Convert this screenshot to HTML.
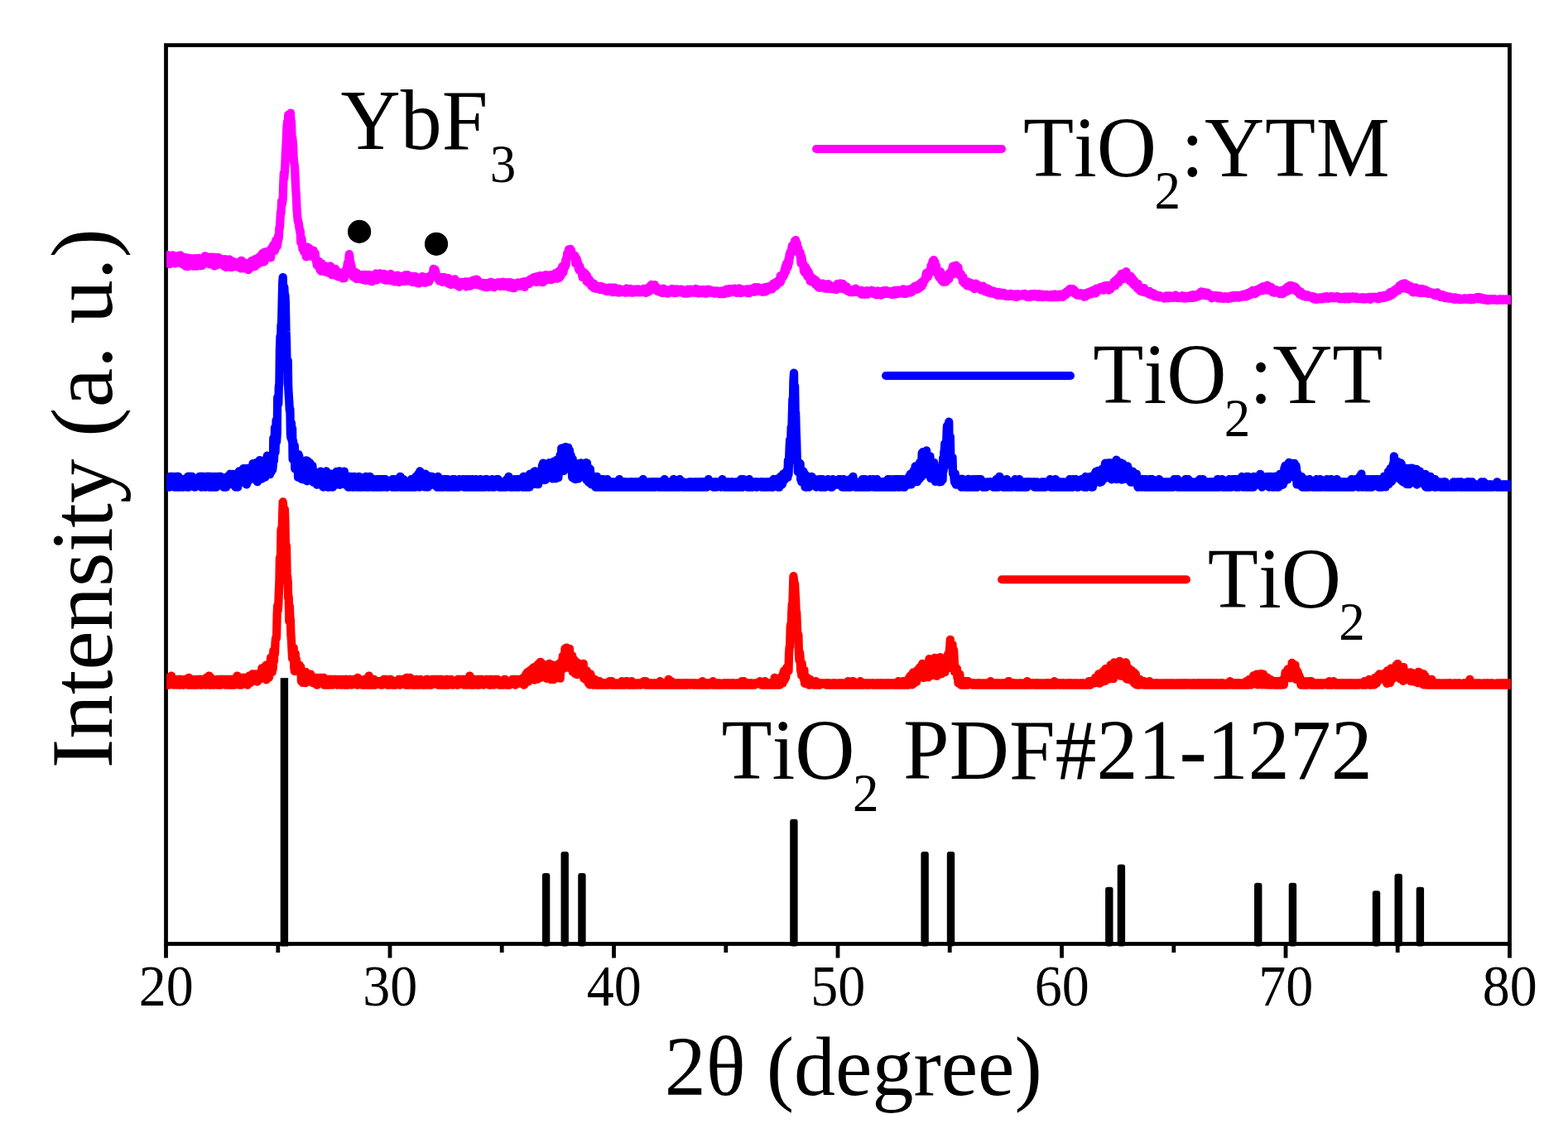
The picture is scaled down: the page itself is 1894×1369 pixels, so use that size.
<!DOCTYPE html>
<html lang="en">
<head>
<meta charset="utf-8">
<title>XRD patterns</title>
<style>
html,body{margin:0;padding:0;background:#fff;}
body{width:1894px;height:1369px;overflow:hidden;}
svg{display:block;}
text{font-family:"Liberation Serif","Times New Roman",serif;fill:#000;font-kerning:none;}
.tick{font-size:66px;text-anchor:middle;}
.lab{font-size:100px;}
.sub{font-size:63px;}
</style>
</head>
<body>
<svg width="1894" height="1369" viewBox="0 0 1894 1369">
<rect x="0" y="0" width="1894" height="1369" fill="#fff"/>
<g fill="#000">
<rect x="338.7" y="819.2" width="9.4" height="324.3" rx="0"/>
<rect x="654.9" y="1055.1" width="9.4" height="88.4" rx="3"/>
<rect x="677.5" y="1029.1" width="9.4" height="114.4" rx="3"/>
<rect x="698.2" y="1055.1" width="9.4" height="88.4" rx="3"/>
<rect x="954.2" y="989.7" width="9.4" height="153.8" rx="3"/>
<rect x="1112.4" y="1029.1" width="9.4" height="114.4" rx="3"/>
<rect x="1143.8" y="1029.1" width="9.4" height="114.4" rx="3"/>
<rect x="1335.1" y="1071.8" width="9.4" height="71.7" rx="3"/>
<rect x="1349.7" y="1044.5" width="9.4" height="99.0" rx="3"/>
<rect x="1515.0" y="1066.8" width="9.4" height="76.7" rx="3"/>
<rect x="1556.7" y="1066.8" width="9.4" height="76.7" rx="3"/>
<rect x="1657.8" y="1076.2" width="9.4" height="67.3" rx="3"/>
<rect x="1684.5" y="1055.7" width="9.4" height="87.8" rx="3"/>
<rect x="1710.7" y="1071.8" width="9.4" height="71.7" rx="3"/>
</g>
<rect x="200.5" y="54.6" width="1623.0" height="1085.9" fill="none" stroke="#000" stroke-width="4.8"/>
<defs><clipPath id="plot"><rect x="201" y="57" width="1624" height="1081"/></clipPath></defs>
<g clip-path="url(#plot)">
<path d="M200.5,821.0L201.0,823.2L201.6,821.0L202.1,827.6L202.7,823.2L203.2,818.8L203.7,825.4L204.3,827.6L204.8,821.0L205.4,823.2L205.9,825.4L206.5,823.2L207.0,816.6L207.5,825.4L208.1,821.0L208.6,823.2L209.2,825.4L209.7,827.6L210.2,821.0L210.8,825.4L211.3,825.4L211.9,823.2L212.4,825.4L212.9,827.6L213.5,825.4L214.0,823.2L214.6,821.0L215.1,823.2L215.6,823.2L216.2,827.6L216.7,821.0L217.3,827.6L217.8,821.0L218.4,823.2L218.9,823.2L219.4,825.4L220.0,825.4L220.5,827.6L221.1,823.2L221.6,825.4L222.1,827.6L222.7,825.4L223.2,821.0L223.8,821.0L224.3,823.2L224.8,825.4L225.4,821.0L225.9,825.4L226.5,823.2L227.0,827.6L227.5,823.2L228.1,818.8L228.6,821.0L229.2,827.6L229.7,821.0L230.3,825.4L230.8,821.0L231.3,827.6L231.9,827.6L232.4,827.6L233.0,825.4L233.5,821.0L234.0,823.2L234.6,823.2L235.1,827.6L235.7,827.6L236.2,825.4L236.7,823.2L237.3,821.0L237.8,823.2L238.4,825.4L238.9,827.6L239.5,825.4L240.0,825.4L240.5,821.0L241.1,821.0L241.6,821.0L242.2,827.6L242.7,821.0L243.2,827.6L243.8,827.6L244.3,823.2L244.9,825.4L245.4,821.0L245.9,823.2L246.5,823.2L247.0,823.2L247.6,821.0L248.1,821.0L248.6,827.6L249.2,818.8L249.7,825.4L250.3,825.4L250.8,821.0L251.4,821.0L251.9,821.0L252.4,816.6L253.0,827.6L253.5,825.4L254.1,821.0L254.6,818.8L255.1,825.4L255.7,821.0L256.2,827.6L256.8,821.0L257.3,825.4L257.8,827.6L258.4,827.6L258.9,823.2L259.5,823.2L260.0,823.2L260.6,825.4L261.1,823.2L261.6,825.4L262.2,821.0L262.7,827.6L263.3,823.2L263.8,823.2L264.3,827.6L264.9,821.0L265.4,823.2L266.0,821.0L266.5,827.6L267.0,825.4L267.6,821.0L268.1,821.0L268.7,823.2L269.2,825.4L269.7,821.0L270.3,823.2L270.8,823.2L271.4,823.2L271.9,821.0L272.5,827.6L273.0,823.2L273.5,821.0L274.1,825.4L274.6,825.4L275.2,823.2L275.7,827.6L276.2,821.0L276.8,823.2L277.3,823.2L277.9,821.0L278.4,827.6L278.9,827.6L279.5,825.4L280.0,821.0L280.6,825.4L281.1,825.4L281.6,827.6L282.2,825.4L282.7,821.0L283.3,827.6L283.8,823.2L284.4,825.4L284.9,818.8L285.4,821.0L286.0,825.4L286.5,816.6L287.1,825.4L287.6,821.0L288.1,825.4L288.7,825.4L289.2,827.6L289.8,825.4L290.3,823.2L290.8,827.6L291.4,827.6L291.9,827.6L292.5,818.8L293.0,823.2L293.6,818.8L294.1,823.2L294.6,823.1L295.2,823.3L295.7,818.9L296.3,823.3L296.8,818.8L297.3,823.2L297.9,825.5L298.4,823.2L299.0,827.6L299.5,823.2L300.0,823.2L300.6,818.8L301.1,816.5L301.7,825.4L302.2,818.9L302.7,816.6L303.3,818.7L303.8,823.3L304.4,821.1L304.9,814.4L305.5,819.0L306.0,816.8L306.5,822.9L307.1,814.6L307.6,818.6L308.2,814.5L308.7,821.2L309.2,822.9L309.8,823.1L310.3,816.5L310.9,823.5L311.4,819.2L311.9,814.5L312.5,820.8L313.0,820.8L313.6,820.9L314.1,816.6L314.7,812.0L315.2,819.2L315.7,814.7L316.3,807.3L316.8,814.7L317.4,818.8L317.9,808.1L318.4,807.3L319.0,809.6L319.5,816.7L320.1,812.8L320.6,816.4L321.1,804.0L321.7,821.4L322.2,803.9L322.8,816.1L323.3,818.0L323.8,802.8L324.4,802.9L324.9,818.5L325.5,812.1L326.0,813.7L326.6,799.6L327.1,794.4L327.6,808.1L328.2,805.1L328.7,812.1L329.3,808.7L329.8,807.9L330.3,786.0L330.9,798.9L331.4,787.5L332.0,789.8L332.5,777.4L333.0,771.3L333.6,772.2L334.1,768.4L334.7,740.7L335.2,731.8L335.7,737.7L336.3,730.2L336.8,715.7L337.4,703.6L337.9,673.9L338.5,682.3L339.0,672.4L339.5,640.5L340.1,638.0L340.6,643.5L341.2,621.5L341.7,606.5L342.2,611.2L342.8,620.8L343.3,621.0L343.9,615.7L344.4,630.1L344.9,658.1L345.5,658.3L346.0,659.9L346.6,694.2L347.1,696.1L347.7,703.2L348.2,722.8L348.7,721.3L349.3,750.7L349.8,732.1L350.4,745.9L350.9,749.3L351.4,767.0L352.0,774.5L352.5,784.6L353.1,795.7L353.6,786.4L354.1,796.3L354.7,782.7L355.2,805.6L355.8,811.0L356.3,792.9L356.8,790.1L357.4,805.6L357.9,796.6L358.5,801.6L359.0,801.4L359.6,807.1L360.1,809.8L360.6,808.0L361.2,805.6L361.7,803.4L362.3,805.5L362.8,809.5L363.3,806.0L363.9,823.1L364.4,823.4L365.0,819.3L365.5,824.9L366.0,816.1L366.6,821.3L367.1,811.9L367.7,823.4L368.2,814.2L368.8,825.2L369.3,812.2L369.8,820.9L370.4,822.9L370.9,821.2L371.5,816.6L372.0,814.5L372.5,816.8L373.1,823.1L373.6,821.2L374.2,820.9L374.7,823.3L375.2,814.6L375.8,818.7L376.3,818.8L376.9,823.4L377.4,821.0L377.9,825.3L378.5,823.3L379.0,818.8L379.6,825.3L380.1,820.9L380.7,823.1L381.2,818.8L381.7,825.5L382.3,818.8L382.8,827.6L383.4,825.4L383.9,821.0L384.4,821.1L385.0,825.5L385.5,825.5L386.1,823.2L386.6,825.4L387.1,818.8L387.7,821.0L388.2,823.2L388.8,821.0L389.3,825.4L389.8,823.2L390.4,821.0L390.9,818.8L391.5,827.6L392.0,823.2L392.6,821.0L393.1,825.4L393.6,825.4L394.2,827.6L394.7,821.0L395.3,827.6L395.8,823.2L396.3,827.6L396.9,823.2L397.4,821.0L398.0,827.6L398.5,821.0L399.0,825.4L399.6,821.0L400.1,825.4L400.7,823.2L401.2,821.0L401.8,827.6L402.3,825.4L402.8,821.0L403.4,825.4L403.9,823.2L404.5,821.0L405.0,823.2L405.5,821.0L406.1,823.2L406.6,823.2L407.2,827.6L407.7,821.0L408.2,825.4L408.8,823.2L409.3,823.2L409.9,825.4L410.4,821.0L410.9,823.2L411.5,823.2L412.0,827.6L412.6,823.2L413.1,823.2L413.7,821.0L414.2,823.2L414.7,825.4L415.3,823.2L415.8,827.6L416.4,825.4L416.9,823.2L417.4,821.0L418.0,821.0L418.5,827.6L419.1,821.0L419.6,823.2L420.1,827.6L420.7,825.4L421.2,823.2L421.8,825.4L422.3,825.4L422.9,821.0L423.4,825.4L423.9,821.0L424.5,825.4L425.0,827.6L425.6,823.2L426.1,823.2L426.6,825.4L427.2,821.0L427.7,823.2L428.3,821.0L428.8,823.2L429.3,823.2L429.9,825.4L430.4,823.2L431.0,821.0L431.5,827.6L432.0,818.8L432.6,825.4L433.1,825.4L433.7,823.2L434.2,823.2L434.8,825.4L435.3,823.2L435.8,825.4L436.4,825.4L436.9,823.2L437.5,827.6L438.0,827.6L438.5,823.2L439.1,827.6L439.6,823.2L440.2,821.0L440.7,821.0L441.2,827.6L441.8,825.4L442.3,823.2L442.9,825.4L443.4,825.4L443.9,821.0L444.5,827.6L445.0,821.0L445.6,816.6L446.1,827.6L446.7,825.4L447.2,823.2L447.7,821.0L448.3,827.6L448.8,821.0L449.4,827.6L449.9,825.4L450.4,827.6L451.0,821.0L451.5,821.0L452.1,825.4L452.6,823.2L453.1,827.6L453.7,823.2L454.2,825.4L454.8,823.2L455.3,825.4L455.9,823.2L456.4,823.2L456.9,823.2L457.5,823.2L458.0,825.4L458.6,823.2L459.1,823.2L459.6,823.2L460.2,827.6L460.7,823.2L461.3,827.6L461.8,823.2L462.3,823.2L462.9,823.2L463.4,821.0L464.0,825.4L464.5,821.0L465.0,821.0L465.6,823.2L466.1,825.4L466.7,821.0L467.2,823.2L467.8,827.6L468.3,825.4L468.8,827.6L469.4,823.2L469.9,825.4L470.5,827.6L471.0,821.0L471.5,825.4L472.1,821.0L472.6,823.2L473.2,825.4L473.7,825.4L474.2,827.6L474.8,825.4L475.3,823.2L475.9,827.6L476.4,823.2L477.0,825.4L477.5,827.6L478.0,827.6L478.6,825.4L479.1,823.2L479.7,825.4L480.2,823.2L480.7,823.2L481.3,825.4L481.8,821.0L482.4,821.0L482.9,827.6L483.4,825.4L484.0,823.2L484.5,825.4L485.1,825.4L485.6,821.0L486.1,823.2L486.7,821.0L487.2,825.4L487.8,823.2L488.3,823.2L488.9,821.0L489.4,825.4L489.9,827.6L490.5,821.0L491.0,818.8L491.6,827.6L492.1,818.8L492.6,825.4L493.2,827.6L493.7,825.4L494.3,827.6L494.8,823.2L495.3,818.8L495.9,825.4L496.4,823.2L497.0,825.4L497.5,827.6L498.0,821.0L498.6,821.0L499.1,827.6L499.7,825.4L500.2,823.2L500.8,823.2L501.3,825.4L501.8,827.6L502.4,825.4L502.9,823.2L503.5,821.0L504.0,827.6L504.5,823.2L505.1,823.2L505.6,825.4L506.2,825.4L506.7,827.6L507.2,823.2L507.8,821.0L508.3,825.4L508.9,823.2L509.4,823.2L510.0,827.6L510.5,825.4L511.0,823.2L511.6,825.4L512.1,823.2L512.7,827.6L513.2,823.2L513.7,823.2L514.3,825.4L514.8,827.6L515.4,821.0L515.9,821.0L516.4,825.4L517.0,821.0L517.5,825.4L518.1,827.6L518.6,823.2L519.1,827.6L519.7,825.4L520.2,823.2L520.8,825.4L521.3,827.6L521.9,821.0L522.4,825.4L522.9,825.4L523.5,823.2L524.0,821.0L524.6,825.4L525.1,823.2L525.6,821.0L526.2,821.0L526.7,823.2L527.3,821.0L527.8,825.4L528.3,825.4L528.9,827.6L529.4,825.4L530.0,825.4L530.5,821.0L531.1,821.0L531.6,827.6L532.1,823.2L532.7,821.0L533.2,821.0L533.8,827.6L534.3,823.2L534.8,823.2L535.4,827.6L535.9,827.6L536.5,823.2L537.0,823.2L537.5,823.2L538.1,827.6L538.6,827.6L539.2,821.0L539.7,825.4L540.2,825.4L540.8,821.0L541.3,827.6L541.9,827.6L542.4,823.2L543.0,823.2L543.5,825.4L544.0,823.2L544.6,823.2L545.1,821.0L545.7,825.4L546.2,823.2L546.7,827.6L547.3,825.4L547.8,823.2L548.4,825.4L548.9,823.2L549.4,825.4L550.0,823.2L550.5,825.4L551.1,825.4L551.6,827.6L552.1,825.4L552.7,821.0L553.2,827.6L553.8,821.0L554.3,821.0L554.9,821.0L555.4,823.2L555.9,823.2L556.5,825.4L557.0,823.2L557.6,821.0L558.1,823.2L558.6,823.2L559.2,821.0L559.7,825.4L560.3,827.6L560.8,821.0L561.3,825.4L561.9,825.4L562.4,825.4L563.0,823.2L563.5,827.6L564.1,825.4L564.6,825.4L565.1,823.2L565.7,825.4L566.2,821.0L566.8,821.0L567.3,816.6L567.8,827.6L568.4,827.6L568.9,823.2L569.5,823.2L570.0,825.4L570.5,825.4L571.1,827.6L571.6,821.0L572.2,827.6L572.7,821.0L573.2,825.4L573.8,823.2L574.3,825.4L574.9,823.2L575.4,825.4L576.0,823.2L576.5,827.6L577.0,821.0L577.6,821.0L578.1,827.6L578.7,827.6L579.2,823.2L579.7,825.4L580.3,823.2L580.8,821.0L581.4,821.0L581.9,823.2L582.4,821.0L583.0,823.2L583.5,825.4L584.1,827.6L584.6,825.4L585.2,823.2L585.7,825.4L586.2,825.4L586.8,823.2L587.3,821.0L587.9,825.4L588.4,821.0L588.9,823.2L589.5,825.4L590.0,825.4L590.6,827.6L591.1,823.2L591.6,821.0L592.2,823.2L592.7,827.6L593.3,821.0L593.8,825.4L594.3,823.2L594.9,825.4L595.4,825.4L596.0,825.4L596.5,827.6L597.1,823.2L597.6,825.4L598.1,821.0L598.7,825.4L599.2,821.0L599.8,823.2L600.3,823.2L600.8,825.4L601.4,821.0L601.9,823.2L602.5,823.2L603.0,827.6L603.5,825.4L604.1,827.6L604.6,827.6L605.2,823.2L605.7,825.4L606.2,823.2L606.8,823.2L607.3,827.6L607.9,827.6L608.4,823.2L609.0,825.4L609.5,821.0L610.0,821.0L610.6,823.2L611.1,823.2L611.7,827.6L612.2,825.4L612.7,827.6L613.3,823.2L613.8,827.6L614.4,825.4L614.9,827.6L615.4,827.6L616.0,823.2L616.5,825.4L617.1,823.2L617.6,825.4L618.2,825.4L618.7,821.0L619.2,825.4L619.8,825.4L620.3,821.0L620.9,825.4L621.4,823.2L621.9,821.0L622.5,827.6L623.0,825.4L623.6,821.0L624.1,823.2L624.6,825.4L625.2,825.4L625.7,825.5L626.3,821.0L626.8,821.0L627.3,825.3L627.9,825.5L628.4,821.0L629.0,823.2L629.5,821.1L630.1,823.3L630.6,825.2L631.1,823.3L631.7,821.1L632.2,819.0L632.8,827.5L633.3,827.4L633.8,821.0L634.4,816.6L634.9,820.9L635.5,814.1L636.0,823.4L636.5,819.0L637.1,812.2L637.6,812.6L638.2,823.6L638.7,818.7L639.3,821.2L639.8,820.7L640.3,810.0L640.9,816.2L641.4,816.8L642.0,819.0L642.5,809.9L643.0,814.8L643.6,807.5L644.1,809.5L644.7,806.3L645.2,821.5L645.7,814.7L646.3,807.6L646.8,814.2L647.4,805.0L647.9,813.8L648.4,807.2L649.0,820.7L649.5,807.0L650.1,812.6L650.6,801.9L651.2,805.9L651.7,805.1L652.2,806.9L652.8,799.8L653.3,818.9L653.9,805.2L654.4,801.7L654.9,818.2L655.5,806.8L656.0,813.1L656.6,806.9L657.1,815.7L657.6,811.4L658.2,807.2L658.7,817.1L659.3,804.0L659.8,817.0L660.3,819.8L660.9,808.2L661.4,809.6L662.0,809.6L662.5,814.6L663.1,805.9L663.6,801.8L664.1,803.9L664.7,803.5L665.2,821.0L665.8,803.6L666.3,819.2L666.8,803.4L667.4,813.7L667.9,809.2L668.5,819.0L669.0,821.0L669.5,810.4L670.1,813.6L670.6,816.0L671.2,810.1L671.7,808.1L672.3,817.1L672.8,805.9L673.3,812.5L673.9,802.6L674.4,808.5L675.0,803.3L675.5,817.1L676.0,811.2L676.6,819.7L677.1,808.2L677.7,800.7L678.2,798.8L678.7,798.3L679.3,802.2L679.8,792.5L680.4,797.5L680.9,799.8L681.4,807.5L682.0,792.3L682.5,783.7L683.1,806.6L683.6,797.8L684.2,782.6L684.7,789.0L685.2,789.3L685.8,791.7L686.3,806.5L686.9,788.1L687.4,790.6L687.9,784.0L688.5,792.2L689.0,792.8L689.6,793.9L690.1,807.4L690.6,801.7L691.2,792.4L691.7,811.8L692.3,795.6L692.8,796.4L693.4,810.9L693.9,811.7L694.4,798.5L695.0,814.2L695.5,805.5L696.1,805.8L696.6,800.4L697.1,815.2L697.7,804.1L698.2,801.4L698.8,801.4L699.3,811.7L699.8,811.3L700.4,805.1L700.9,806.5L701.5,810.7L702.0,804.6L702.5,814.8L703.1,809.1L703.6,808.0L704.2,803.3L704.7,801.9L705.3,819.5L705.8,819.6L706.3,812.2L706.9,812.7L707.4,821.2L708.0,819.3L708.5,810.3L709.0,821.2L709.6,812.0L710.1,814.1L710.7,825.5L711.2,816.9L711.7,823.0L712.3,827.3L712.8,823.3L713.4,814.7L713.9,816.6L714.4,818.9L715.0,825.6L715.5,825.4L716.1,827.6L716.6,820.9L717.2,825.4L717.7,823.3L718.2,825.3L718.8,821.0L719.3,823.2L719.9,827.6L720.4,823.2L720.9,825.4L721.5,825.4L722.0,825.4L722.6,827.6L723.1,827.6L723.6,827.6L724.2,823.2L724.7,825.4L725.3,825.4L725.8,827.6L726.4,825.4L726.9,827.6L727.4,825.4L728.0,825.4L728.5,825.4L729.1,825.4L729.6,827.6L730.1,827.6L730.7,825.4L731.2,825.4L731.8,825.4L732.3,827.6L732.8,825.4L733.4,825.4L733.9,827.6L734.5,825.4L735.0,827.6L735.5,825.4L736.1,823.2L736.6,825.4L737.2,825.4L737.7,825.4L738.3,827.6L738.8,823.2L739.3,827.6L739.9,827.6L740.4,825.4L741.0,827.6L741.5,825.4L742.0,825.4L742.6,827.6L743.1,825.4L743.7,827.6L744.2,827.6L744.7,825.4L745.3,827.6L745.8,827.6L746.4,827.6L746.9,827.6L747.5,825.4L748.0,825.4L748.5,825.4L749.1,827.6L749.6,825.4L750.2,827.6L750.7,825.4L751.2,823.2L751.8,825.4L752.3,825.4L752.9,827.6L753.4,827.6L753.9,825.4L754.5,827.6L755.0,827.6L755.6,825.4L756.1,825.4L756.6,823.2L757.2,823.2L757.7,825.4L758.3,825.4L758.8,827.6L759.4,827.6L759.9,827.6L760.4,825.4L761.0,827.6L761.5,827.6L762.1,827.6L762.6,825.4L763.1,823.2L763.7,827.6L764.2,825.4L764.8,825.4L765.3,827.6L765.8,825.4L766.4,825.4L766.9,825.4L767.5,827.6L768.0,827.6L768.5,827.6L769.1,827.6L769.6,825.4L770.2,825.4L770.7,825.4L771.3,825.4L771.8,825.4L772.3,825.4L772.9,827.6L773.4,827.6L774.0,825.4L774.5,827.6L775.0,825.4L775.6,825.4L776.1,825.4L776.7,825.4L777.2,825.4L777.7,823.2L778.3,825.4L778.8,825.4L779.4,827.6L779.9,823.2L780.5,827.6L781.0,827.6L781.5,825.4L782.1,825.4L782.6,825.4L783.2,825.4L783.7,825.4L784.2,827.6L784.8,827.6L785.3,825.4L785.9,827.6L786.4,825.4L786.9,827.6L787.5,825.4L788.0,827.6L788.6,827.6L789.1,827.6L789.6,825.4L790.2,825.4L790.7,825.4L791.3,827.6L791.8,825.4L792.4,827.6L792.9,827.6L793.4,825.4L794.0,827.6L794.5,825.4L795.1,827.6L795.6,825.4L796.1,827.6L796.7,827.6L797.2,823.2L797.8,825.4L798.3,825.4L798.8,827.6L799.4,827.6L799.9,825.4L800.5,827.6L801.0,827.6L801.6,825.4L802.1,827.6L802.6,825.4L803.2,825.4L803.7,827.6L804.3,825.4L804.8,825.4L805.3,827.6L805.9,827.6L806.4,827.6L807.0,827.6L807.5,821.0L808.0,827.6L808.6,825.4L809.1,825.4L809.7,827.6L810.2,827.6L810.7,823.2L811.3,827.6L811.8,825.4L812.4,827.6L812.9,825.4L813.5,827.6L814.0,827.6L814.5,827.6L815.1,825.4L815.6,827.6L816.2,827.6L816.7,825.4L817.2,827.6L817.8,825.4L818.3,825.4L818.9,825.4L819.4,827.6L819.9,825.4L820.5,825.4L821.0,827.6L821.6,825.4L822.1,827.6L822.6,827.6L823.2,825.4L823.7,827.6L824.3,825.4L824.8,825.4L825.4,825.4L825.9,827.6L826.4,827.6L827.0,825.4L827.5,825.4L828.1,827.6L828.6,825.4L829.1,827.6L829.7,825.4L830.2,827.6L830.8,825.4L831.3,825.4L831.8,825.4L832.4,825.4L832.9,825.4L833.5,827.6L834.0,827.6L834.6,825.4L835.1,825.4L835.6,825.4L836.2,825.4L836.7,825.4L837.3,825.4L837.8,827.6L838.3,827.6L838.9,827.6L839.4,825.4L840.0,825.4L840.5,825.4L841.0,827.6L841.6,827.6L842.1,827.6L842.7,827.6L843.2,827.6L843.7,825.4L844.3,825.4L844.8,827.6L845.4,827.6L845.9,825.4L846.5,825.4L847.0,827.6L847.5,827.6L848.1,825.4L848.6,823.2L849.2,827.6L849.7,825.4L850.2,827.6L850.8,825.4L851.3,825.4L851.9,827.6L852.4,827.6L852.9,825.4L853.5,825.4L854.0,827.6L854.6,825.4L855.1,827.6L855.7,827.6L856.2,825.4L856.7,825.4L857.3,827.6L857.8,825.4L858.4,825.4L858.9,825.4L859.4,825.4L860.0,825.4L860.5,825.4L861.1,823.2L861.6,827.6L862.1,827.6L862.7,827.6L863.2,825.4L863.8,825.4L864.3,827.6L864.8,827.6L865.4,825.4L865.9,827.6L866.5,825.4L867.0,827.6L867.6,825.4L868.1,825.4L868.6,825.4L869.2,825.4L869.7,827.6L870.3,827.6L870.8,827.6L871.3,827.6L871.9,827.6L872.4,827.6L873.0,827.6L873.5,827.6L874.0,825.4L874.6,827.6L875.1,825.4L875.7,827.6L876.2,825.4L876.7,825.4L877.3,825.4L877.8,825.4L878.4,827.6L878.9,825.4L879.5,825.4L880.0,827.6L880.5,825.4L881.1,827.6L881.6,827.6L882.2,827.6L882.7,827.6L883.2,825.4L883.8,825.4L884.3,827.6L884.9,825.4L885.4,825.4L885.9,827.6L886.5,825.4L887.0,827.6L887.6,827.6L888.1,827.6L888.7,827.6L889.2,825.4L889.7,827.6L890.3,827.6L890.8,825.4L891.4,825.4L891.9,827.6L892.4,825.4L893.0,827.6L893.5,827.6L894.1,827.6L894.6,825.4L895.1,827.6L895.7,825.4L896.2,823.2L896.8,827.6L897.3,825.4L897.8,827.6L898.4,823.2L898.9,827.6L899.5,827.6L900.0,825.4L900.6,825.4L901.1,825.4L901.6,827.6L902.2,825.4L902.7,825.4L903.3,827.6L903.8,825.4L904.3,827.6L904.9,825.4L905.4,827.6L906.0,827.6L906.5,825.4L907.0,825.4L907.6,827.6L908.1,825.4L908.7,827.6L909.2,827.6L909.8,827.6L910.3,827.6L910.8,827.6L911.4,827.6L911.9,825.4L912.5,825.4L913.0,825.4L913.5,825.4L914.1,825.4L914.6,825.4L915.2,825.4L915.7,825.4L916.2,825.4L916.8,825.4L917.3,825.4L917.9,823.2L918.4,825.4L918.9,825.4L919.5,827.6L920.0,825.4L920.6,825.4L921.1,827.6L921.7,825.4L922.2,827.6L922.7,825.4L923.3,827.6L923.8,823.2L924.4,827.6L924.9,825.4L925.4,827.6L926.0,827.6L926.5,827.6L927.1,827.6L927.6,825.4L928.1,827.6L928.7,825.4L929.2,827.6L929.8,825.4L930.3,825.4L930.8,825.4L931.4,827.6L931.9,827.6L932.5,827.6L933.0,827.6L933.6,825.4L934.1,827.6L934.6,827.6L935.2,827.6L935.7,818.8L936.3,825.5L936.8,827.6L937.3,825.4L937.9,827.5L938.4,827.6L939.0,821.0L939.5,827.6L940.0,827.5L940.6,827.6L941.1,825.5L941.7,827.6L942.2,823.1L942.8,819.0L943.3,823.1L943.8,820.8L944.4,816.8L944.9,819.0L945.5,825.3L946.0,814.8L946.5,812.1L947.1,810.3L947.6,821.5L948.2,810.2L948.7,819.4L949.2,818.2L949.8,814.1L950.3,806.5L950.9,810.9L951.4,810.3L951.9,806.0L952.5,810.5L953.0,789.9L953.6,781.9L954.1,781.4L954.7,757.1L955.2,754.0L955.7,757.2L956.3,738.6L956.8,729.8L957.4,728.3L957.9,712.8L958.4,696.2L959.0,701.7L959.5,707.7L960.1,705.4L960.6,717.9L961.1,724.6L961.7,743.4L962.2,740.4L962.8,754.9L963.3,769.2L963.9,766.1L964.4,767.5L964.9,789.9L965.5,798.0L966.0,788.4L966.6,794.4L967.1,810.4L967.6,807.9L968.2,816.2L968.7,801.9L969.3,813.6L969.8,808.3L970.3,814.8L970.9,820.6L971.4,810.0L972.0,825.8L972.5,820.9L973.0,819.1L973.6,820.7L974.1,818.7L974.7,818.7L975.2,819.0L975.8,825.2L976.3,823.1L976.8,827.4L977.4,827.6L977.9,827.6L978.5,821.0L979.0,823.3L979.5,823.3L980.1,823.2L980.6,823.2L981.2,823.3L981.7,825.4L982.2,823.2L982.8,827.6L983.3,825.3L983.9,827.6L984.4,827.6L984.9,825.4L985.5,823.2L986.0,827.6L986.6,827.6L987.1,825.4L987.7,825.4L988.2,827.6L988.7,827.6L989.3,825.4L989.8,827.6L990.4,825.4L990.9,827.6L991.4,825.4L992.0,825.4L992.5,825.4L993.1,825.4L993.6,825.4L994.1,825.4L994.7,825.4L995.2,825.4L995.8,825.4L996.3,825.4L996.9,825.4L997.4,825.4L997.9,827.6L998.5,825.4L999.0,827.6L999.6,825.4L1000.1,825.4L1000.6,827.6L1001.2,825.4L1001.7,827.6L1002.3,825.4L1002.8,827.6L1003.3,827.6L1003.9,827.6L1004.4,827.6L1005.0,827.6L1005.5,827.6L1006.0,825.4L1006.6,825.4L1007.1,827.6L1007.7,825.4L1008.2,827.6L1008.8,825.4L1009.3,825.4L1009.8,825.4L1010.4,827.6L1010.9,827.6L1011.5,827.6L1012.0,827.6L1012.5,827.6L1013.1,825.4L1013.6,825.4L1014.2,827.6L1014.7,825.4L1015.2,825.4L1015.8,827.6L1016.3,827.6L1016.9,825.4L1017.4,825.4L1018.0,825.4L1018.5,827.6L1019.0,827.6L1019.6,827.6L1020.1,827.6L1020.7,825.4L1021.2,825.4L1021.7,827.6L1022.3,827.6L1022.8,827.6L1023.4,827.6L1023.9,825.4L1024.4,823.2L1025.0,827.6L1025.5,827.6L1026.1,825.4L1026.6,825.4L1027.1,827.6L1027.7,827.6L1028.2,825.4L1028.8,825.4L1029.3,823.2L1029.9,827.6L1030.4,825.4L1030.9,823.2L1031.5,825.4L1032.0,827.6L1032.6,827.6L1033.1,827.6L1033.6,825.4L1034.2,827.6L1034.7,827.6L1035.3,825.4L1035.8,827.6L1036.3,827.6L1036.9,825.4L1037.4,827.6L1038.0,827.6L1038.5,827.6L1039.0,823.2L1039.6,827.6L1040.1,825.4L1040.7,825.4L1041.2,827.6L1041.8,827.6L1042.3,825.4L1042.8,825.4L1043.4,827.6L1043.9,825.4L1044.5,825.4L1045.0,825.4L1045.5,825.4L1046.1,827.6L1046.6,825.4L1047.2,827.6L1047.7,827.6L1048.2,825.4L1048.8,827.6L1049.3,825.4L1049.9,827.6L1050.4,827.6L1051.0,825.4L1051.5,825.4L1052.0,825.4L1052.6,825.4L1053.1,825.4L1053.7,825.4L1054.2,827.6L1054.7,825.4L1055.3,827.6L1055.8,825.4L1056.4,827.6L1056.9,827.6L1057.4,827.6L1058.0,827.6L1058.5,825.4L1059.1,825.4L1059.6,827.6L1060.1,827.6L1060.7,825.4L1061.2,827.6L1061.8,827.6L1062.3,825.4L1062.9,825.4L1063.4,827.6L1063.9,825.4L1064.5,827.6L1065.0,825.4L1065.6,827.6L1066.1,825.4L1066.6,825.4L1067.2,825.4L1067.7,827.6L1068.3,827.6L1068.8,827.6L1069.3,825.4L1069.9,825.4L1070.4,825.4L1071.0,827.6L1071.5,825.4L1072.1,825.4L1072.6,825.4L1073.1,827.6L1073.7,827.6L1074.2,825.4L1074.8,827.6L1075.3,825.4L1075.8,825.4L1076.4,825.4L1076.9,825.4L1077.5,825.4L1078.0,827.6L1078.5,825.4L1079.1,827.6L1079.6,827.6L1080.2,825.4L1080.7,825.4L1081.2,827.6L1081.8,827.6L1082.3,825.4L1082.9,825.4L1083.4,825.4L1084.0,825.4L1084.5,827.6L1085.0,823.2L1085.6,825.4L1086.1,825.4L1086.7,825.4L1087.2,827.6L1087.7,827.6L1088.3,827.6L1088.8,825.4L1089.4,825.4L1089.9,825.4L1090.4,823.2L1091.0,827.6L1091.5,823.2L1092.1,827.5L1092.6,827.6L1093.1,825.4L1093.7,827.6L1094.2,827.5L1094.8,825.5L1095.3,827.6L1095.9,827.6L1096.4,823.3L1096.9,821.0L1097.5,827.5L1098.0,819.0L1098.6,823.4L1099.1,825.3L1099.6,816.7L1100.2,825.1L1100.7,822.9L1101.3,819.0L1101.8,827.3L1102.3,819.1L1102.9,812.5L1103.4,812.3L1104.0,825.4L1104.5,825.3L1105.1,812.1L1105.6,818.6L1106.1,814.7L1106.7,818.4L1107.2,823.5L1107.8,810.0L1108.3,810.5L1108.8,819.5L1109.4,810.6L1109.9,817.1L1110.5,808.6L1111.0,806.4L1111.5,810.2L1112.1,816.8L1112.6,809.6L1113.2,817.4L1113.7,803.5L1114.2,801.9L1114.8,806.0L1115.3,819.0L1115.9,809.2L1116.4,805.8L1117.0,814.2L1117.5,818.4L1118.0,803.6L1118.6,813.7L1119.1,812.7L1119.7,808.6L1120.2,816.3L1120.7,815.0L1121.3,818.4L1121.8,805.7L1122.4,796.2L1122.9,808.3L1123.4,808.9L1124.0,801.8L1124.5,803.7L1125.1,800.1L1125.6,816.1L1126.2,810.4L1126.7,812.2L1127.2,809.9L1127.8,798.2L1128.3,798.8L1128.9,794.9L1129.4,797.0L1129.9,807.5L1130.5,804.8L1131.0,806.9L1131.6,816.8L1132.1,795.5L1132.6,799.1L1133.2,813.3L1133.7,800.3L1134.3,811.2L1134.8,809.2L1135.3,796.7L1135.9,794.2L1136.4,800.4L1137.0,814.4L1137.5,808.1L1138.1,796.5L1138.6,808.8L1139.1,804.0L1139.7,804.7L1140.2,806.9L1140.8,801.9L1141.3,812.2L1141.8,805.4L1142.4,804.1L1142.9,794.9L1143.5,801.3L1144.0,795.3L1144.5,807.9L1145.1,790.2L1145.6,806.3L1146.2,794.4L1146.7,787.2L1147.2,782.1L1147.8,772.9L1148.3,789.9L1148.9,801.7L1149.4,791.7L1150.0,797.6L1150.5,778.7L1151.0,807.4L1151.6,800.7L1152.1,785.8L1152.7,797.9L1153.2,812.0L1153.7,811.7L1154.3,806.1L1154.8,809.9L1155.4,810.0L1155.9,808.0L1156.4,818.9L1157.0,817.2L1157.5,825.5L1158.1,818.3L1158.6,814.4L1159.2,814.6L1159.7,819.1L1160.2,823.0L1160.8,827.6L1161.3,825.4L1161.9,823.1L1162.4,825.3L1162.9,825.3L1163.5,827.6L1164.0,827.5L1164.6,827.6L1165.1,827.6L1165.6,823.2L1166.2,827.6L1166.7,825.4L1167.3,825.4L1167.8,823.2L1168.3,823.2L1168.9,827.6L1169.4,823.2L1170.0,825.4L1170.5,825.4L1171.1,825.4L1171.6,825.4L1172.1,825.4L1172.7,825.4L1173.2,825.4L1173.8,825.4L1174.3,825.4L1174.8,827.6L1175.4,825.4L1175.9,825.4L1176.5,827.6L1177.0,825.4L1177.5,825.4L1178.1,827.6L1178.6,827.6L1179.2,827.6L1179.7,827.6L1180.3,825.4L1180.8,827.6L1181.3,825.4L1181.9,827.6L1182.4,825.4L1183.0,825.4L1183.5,827.6L1184.0,827.6L1184.6,825.4L1185.1,827.6L1185.7,827.6L1186.2,827.6L1186.7,827.6L1187.3,825.4L1187.8,825.4L1188.4,827.6L1188.9,827.6L1189.4,827.6L1190.0,827.6L1190.5,827.6L1191.1,825.4L1191.6,825.4L1192.2,825.4L1192.7,825.4L1193.2,825.4L1193.8,827.6L1194.3,827.6L1194.9,827.6L1195.4,825.4L1195.9,825.4L1196.5,823.2L1197.0,827.6L1197.6,827.6L1198.1,825.4L1198.6,825.4L1199.2,825.4L1199.7,827.6L1200.3,827.6L1200.8,827.6L1201.3,827.6L1201.9,827.6L1202.4,825.4L1203.0,827.6L1203.5,825.4L1204.1,825.4L1204.6,827.6L1205.1,825.4L1205.7,825.4L1206.2,827.6L1206.8,825.4L1207.3,827.6L1207.8,827.6L1208.4,827.6L1208.9,827.6L1209.5,827.6L1210.0,825.4L1210.5,827.6L1211.1,825.4L1211.6,825.4L1212.2,827.6L1212.7,825.4L1213.3,827.6L1213.8,827.6L1214.3,827.6L1214.9,827.6L1215.4,825.4L1216.0,827.6L1216.5,825.4L1217.0,825.4L1217.6,827.6L1218.1,823.2L1218.7,823.2L1219.2,825.4L1219.7,827.6L1220.3,827.6L1220.8,825.4L1221.4,825.4L1221.9,827.6L1222.4,825.4L1223.0,827.6L1223.5,825.4L1224.1,825.4L1224.6,825.4L1225.2,827.6L1225.7,825.4L1226.2,827.6L1226.8,827.6L1227.3,827.6L1227.9,825.4L1228.4,827.6L1228.9,827.6L1229.5,827.6L1230.0,827.6L1230.6,827.6L1231.1,827.6L1231.6,825.4L1232.2,825.4L1232.7,825.4L1233.3,825.4L1233.8,825.4L1234.4,827.6L1234.9,827.6L1235.4,827.6L1236.0,827.6L1236.5,827.6L1237.1,825.4L1237.6,827.6L1238.1,827.6L1238.7,825.4L1239.2,825.4L1239.8,825.4L1240.3,825.4L1240.8,823.2L1241.4,827.6L1241.9,825.4L1242.5,827.6L1243.0,827.6L1243.5,825.4L1244.1,825.4L1244.6,825.4L1245.2,827.6L1245.7,825.4L1246.3,825.4L1246.8,825.4L1247.3,825.4L1247.9,825.4L1248.4,827.6L1249.0,825.4L1249.5,827.6L1250.0,827.6L1250.6,825.4L1251.1,827.6L1251.7,825.4L1252.2,827.6L1252.7,825.4L1253.3,827.6L1253.8,825.4L1254.4,825.4L1254.9,825.4L1255.4,825.4L1256.0,825.4L1256.5,827.6L1257.1,827.6L1257.6,827.6L1258.2,825.4L1258.7,825.4L1259.2,827.6L1259.8,827.6L1260.3,827.6L1260.9,827.6L1261.4,825.4L1261.9,827.6L1262.5,827.6L1263.0,825.4L1263.6,825.4L1264.1,827.6L1264.6,825.4L1265.2,825.4L1265.7,827.6L1266.3,825.4L1266.8,827.6L1267.4,825.4L1267.9,825.4L1268.4,827.6L1269.0,827.6L1269.5,827.6L1270.1,827.6L1270.6,825.4L1271.1,827.6L1271.7,827.6L1272.2,825.4L1272.8,827.6L1273.3,825.4L1273.8,823.2L1274.4,825.4L1274.9,827.6L1275.5,827.6L1276.0,825.4L1276.5,827.6L1277.1,825.4L1277.6,825.4L1278.2,825.4L1278.7,825.4L1279.3,825.4L1279.8,827.6L1280.3,827.6L1280.9,825.4L1281.4,825.4L1282.0,825.4L1282.5,825.4L1283.0,827.6L1283.6,825.4L1284.1,827.6L1284.7,825.4L1285.2,827.6L1285.7,825.4L1286.3,827.6L1286.8,827.6L1287.4,827.6L1287.9,827.6L1288.5,825.4L1289.0,825.4L1289.5,825.4L1290.1,827.6L1290.6,825.4L1291.2,825.4L1291.7,827.6L1292.2,825.4L1292.8,827.6L1293.3,825.4L1293.9,827.6L1294.4,825.4L1294.9,825.4L1295.5,827.6L1296.0,827.6L1296.6,827.6L1297.1,827.6L1297.6,825.4L1298.2,825.4L1298.7,827.6L1299.3,827.6L1299.8,827.6L1300.4,825.4L1300.9,825.4L1301.4,827.6L1302.0,827.6L1302.5,827.6L1303.1,827.6L1303.6,827.6L1304.1,827.6L1304.7,825.4L1305.2,825.4L1305.8,825.4L1306.3,827.6L1306.8,827.6L1307.4,825.4L1307.9,825.4L1308.5,825.4L1309.0,827.6L1309.5,827.6L1310.1,827.6L1310.6,827.6L1311.2,825.4L1311.7,827.6L1312.3,827.6L1312.8,825.4L1313.3,827.6L1313.9,827.6L1314.4,827.6L1315.0,827.6L1315.5,823.2L1316.0,823.2L1316.6,823.2L1317.1,827.6L1317.7,823.3L1318.2,825.5L1318.7,825.4L1319.3,823.3L1319.8,823.3L1320.4,825.3L1320.9,823.1L1321.5,823.0L1322.0,820.9L1322.5,825.4L1323.1,818.8L1323.6,819.0L1324.2,821.1L1324.7,821.0L1325.2,818.6L1325.8,823.4L1326.3,818.8L1326.9,814.5L1327.4,820.6L1327.9,818.9L1328.5,825.7L1329.0,823.5L1329.6,822.8L1330.1,819.2L1330.6,823.0L1331.2,812.5L1331.7,823.7L1332.3,820.6L1332.8,819.4L1333.4,810.5L1333.9,810.3L1334.4,810.3L1335.0,822.8L1335.5,808.1L1336.1,812.5L1336.6,815.9L1337.1,808.3L1337.7,819.2L1338.2,808.4L1338.8,815.8L1339.3,818.8L1339.8,820.4L1340.4,810.5L1340.9,819.7L1341.5,803.4L1342.0,804.8L1342.6,805.3L1343.1,815.1L1343.6,807.9L1344.2,810.0L1344.7,820.2L1345.3,803.6L1345.8,800.5L1346.3,815.7L1346.9,802.5L1347.4,812.6L1348.0,814.2L1348.5,808.0L1349.0,815.1L1349.6,803.3L1350.1,804.6L1350.7,811.9L1351.2,805.5L1351.7,812.5L1352.3,798.8L1352.8,802.7L1353.4,816.7L1353.9,803.1L1354.5,808.7L1355.0,815.5L1355.5,813.1L1356.1,816.2L1356.6,802.2L1357.2,801.9L1357.7,807.5L1358.2,810.8L1358.8,818.0L1359.3,811.7L1359.9,800.3L1360.4,801.6L1360.9,820.3L1361.5,820.5L1362.0,819.5L1362.6,813.1L1363.1,807.5L1363.6,821.1L1364.2,808.6L1364.7,810.5L1365.3,821.1L1365.8,809.6L1366.4,810.3L1366.9,809.8L1367.4,818.3L1368.0,814.6L1368.5,823.3L1369.1,814.3L1369.6,812.2L1370.1,825.6L1370.7,822.8L1371.2,820.9L1371.8,814.7L1372.3,827.3L1372.8,823.1L1373.4,818.9L1373.9,821.1L1374.5,827.6L1375.0,821.0L1375.6,827.6L1376.1,827.6L1376.6,821.0L1377.2,825.4L1377.7,825.5L1378.3,823.3L1378.8,825.5L1379.3,823.2L1379.9,825.4L1380.4,825.4L1381.0,825.4L1381.5,827.6L1382.0,823.2L1382.6,825.4L1383.1,827.6L1383.7,827.6L1384.2,825.4L1384.7,825.4L1385.3,827.6L1385.8,827.6L1386.4,827.6L1386.9,825.4L1387.5,825.4L1388.0,825.4L1388.5,823.2L1389.1,827.6L1389.6,825.4L1390.2,827.6L1390.7,827.6L1391.2,825.4L1391.8,827.6L1392.3,825.4L1392.9,827.6L1393.4,827.6L1393.9,827.6L1394.5,825.4L1395.0,825.4L1395.6,827.6L1396.1,827.6L1396.7,825.4L1397.2,827.6L1397.7,825.4L1398.3,825.4L1398.8,827.6L1399.4,827.6L1399.9,827.6L1400.4,827.6L1401.0,825.4L1401.5,827.6L1402.1,827.6L1402.6,827.6L1403.1,825.4L1403.7,827.6L1404.2,827.6L1404.8,827.6L1405.3,825.4L1405.8,825.4L1406.4,825.4L1406.9,827.6L1407.5,827.6L1408.0,827.6L1408.6,827.6L1409.1,825.4L1409.6,825.4L1410.2,825.4L1410.7,825.4L1411.3,827.6L1411.8,827.6L1412.3,827.6L1412.9,825.4L1413.4,827.6L1414.0,825.4L1414.5,827.6L1415.0,827.6L1415.6,825.4L1416.1,825.4L1416.7,825.4L1417.2,827.6L1417.7,827.6L1418.3,827.6L1418.8,825.4L1419.4,827.6L1419.9,827.6L1420.5,827.6L1421.0,825.4L1421.5,827.6L1422.1,827.6L1422.6,825.4L1423.2,825.4L1423.7,827.6L1424.2,827.6L1424.8,827.6L1425.3,825.4L1425.9,825.4L1426.4,825.4L1426.9,825.4L1427.5,825.4L1428.0,827.6L1428.6,827.6L1429.1,825.4L1429.7,827.6L1430.2,825.4L1430.7,825.4L1431.3,825.4L1431.8,827.6L1432.4,825.4L1432.9,827.6L1433.4,825.4L1434.0,825.4L1434.5,825.4L1435.1,825.4L1435.6,825.4L1436.1,825.4L1436.7,827.6L1437.2,827.6L1437.8,827.6L1438.3,827.6L1438.8,825.4L1439.4,827.6L1439.9,827.6L1440.5,825.4L1441.0,825.4L1441.6,827.6L1442.1,825.4L1442.6,827.6L1443.2,825.4L1443.7,825.4L1444.3,827.6L1444.8,827.6L1445.3,827.6L1445.9,825.4L1446.4,827.6L1447.0,825.4L1447.5,825.4L1448.0,827.6L1448.6,825.4L1449.1,825.4L1449.7,827.6L1450.2,825.4L1450.8,827.6L1451.3,825.4L1451.8,827.6L1452.4,827.6L1452.9,825.4L1453.5,825.4L1454.0,827.6L1454.5,825.4L1455.1,827.6L1455.6,825.4L1456.2,827.6L1456.7,825.4L1457.2,825.4L1457.8,825.4L1458.3,827.6L1458.9,825.4L1459.4,827.6L1459.9,827.6L1460.5,825.4L1461.0,825.4L1461.6,827.6L1462.1,825.4L1462.7,825.4L1463.2,827.6L1463.7,825.4L1464.3,827.6L1464.8,827.6L1465.4,825.4L1465.9,825.4L1466.4,827.6L1467.0,825.4L1467.5,827.6L1468.1,827.6L1468.6,827.6L1469.1,825.4L1469.7,825.4L1470.2,827.6L1470.8,825.4L1471.3,827.6L1471.8,827.6L1472.4,827.6L1472.9,827.6L1473.5,825.4L1474.0,827.6L1474.6,825.4L1475.1,825.4L1475.6,827.6L1476.2,825.4L1476.7,825.4L1477.3,827.6L1477.8,825.4L1478.3,827.6L1478.9,827.6L1479.4,827.6L1480.0,827.6L1480.5,827.6L1481.0,827.6L1481.6,827.6L1482.1,825.4L1482.7,827.6L1483.2,827.6L1483.8,825.4L1484.3,827.6L1484.8,825.4L1485.4,825.4L1485.9,823.2L1486.5,825.4L1487.0,825.4L1487.5,827.6L1488.1,825.4L1488.6,827.6L1489.2,827.6L1489.7,825.4L1490.2,825.4L1490.8,827.6L1491.3,827.6L1491.9,825.4L1492.4,825.4L1492.9,827.6L1493.5,825.4L1494.0,825.4L1494.6,827.6L1495.1,825.4L1495.7,827.6L1496.2,825.4L1496.7,827.6L1497.3,825.4L1497.8,825.4L1498.4,825.4L1498.9,827.6L1499.4,827.6L1500.0,827.6L1500.5,825.4L1501.1,827.6L1501.6,825.4L1502.1,827.6L1502.7,825.4L1503.2,827.6L1503.8,825.4L1504.3,827.6L1504.9,825.4L1505.4,823.1L1505.9,825.4L1506.5,827.6L1507.0,825.5L1507.6,825.4L1508.1,823.3L1508.6,827.5L1509.2,820.8L1509.7,825.3L1510.3,820.9L1510.8,825.2L1511.3,827.5L1511.9,821.1L1512.4,823.3L1513.0,822.9L1513.5,820.9L1514.0,816.5L1514.6,823.5L1515.1,816.3L1515.7,825.1L1516.2,822.9L1516.8,825.5L1517.3,818.8L1517.8,814.7L1518.4,819.1L1518.9,827.4L1519.5,818.4L1520.0,823.5L1520.5,816.8L1521.1,819.1L1521.6,816.7L1522.2,821.0L1522.7,814.1L1523.2,823.5L1523.8,827.3L1524.3,825.7L1524.9,814.7L1525.4,823.2L1525.9,814.6L1526.5,825.7L1527.0,816.9L1527.6,827.4L1528.1,825.5L1528.7,822.9L1529.2,823.2L1529.7,820.8L1530.3,825.6L1530.8,818.7L1531.4,819.0L1531.9,827.6L1532.4,820.8L1533.0,823.2L1533.5,823.2L1534.1,827.5L1534.6,821.1L1535.1,827.5L1535.7,823.1L1536.2,823.2L1536.8,823.3L1537.3,825.4L1537.9,825.4L1538.4,825.4L1538.9,827.6L1539.5,823.2L1540.0,823.2L1540.6,827.6L1541.1,825.4L1541.6,823.2L1542.2,825.4L1542.7,825.4L1543.3,823.2L1543.8,827.6L1544.3,827.6L1544.9,823.2L1545.4,827.6L1546.0,823.2L1546.5,825.4L1547.0,825.5L1547.6,827.6L1548.1,827.5L1548.7,827.6L1549.2,823.3L1549.8,820.9L1550.3,825.3L1550.8,827.4L1551.4,820.9L1551.9,821.1L1552.5,812.5L1553.0,812.5L1553.5,814.5L1554.1,818.6L1554.6,816.5L1555.2,815.0L1555.7,808.3L1556.2,810.0L1556.8,816.4L1557.3,814.6L1557.9,818.2L1558.4,819.3L1559.0,816.4L1559.5,812.5L1560.0,818.6L1560.6,800.9L1561.1,815.8L1561.7,811.0L1562.2,814.8L1562.7,812.7L1563.3,807.0L1563.8,819.3L1564.4,803.4L1564.9,819.3L1565.4,820.8L1566.0,810.0L1566.5,819.2L1567.1,821.2L1567.6,812.1L1568.1,820.9L1568.7,818.6L1569.2,816.3L1569.8,823.3L1570.3,818.9L1570.9,823.4L1571.4,827.6L1571.9,825.4L1572.5,827.5L1573.0,827.6L1573.6,823.2L1574.1,823.2L1574.6,825.4L1575.2,825.4L1575.7,827.6L1576.3,825.4L1576.8,825.4L1577.3,827.6L1577.9,825.4L1578.4,823.2L1579.0,827.6L1579.5,825.4L1580.0,825.4L1580.6,825.4L1581.1,825.4L1581.7,823.2L1582.2,825.4L1582.8,825.4L1583.3,827.6L1583.8,823.2L1584.4,827.6L1584.9,827.6L1585.5,827.6L1586.0,825.4L1586.5,825.4L1587.1,825.4L1587.6,825.4L1588.2,825.4L1588.7,827.6L1589.2,827.6L1589.8,827.6L1590.3,825.4L1590.9,827.6L1591.4,825.4L1592.0,825.4L1592.5,825.4L1593.0,825.4L1593.6,827.6L1594.1,827.6L1594.7,825.4L1595.2,825.4L1595.7,825.4L1596.3,827.6L1596.8,825.4L1597.4,827.6L1597.9,827.6L1598.4,827.6L1599.0,825.4L1599.5,825.4L1600.1,825.4L1600.6,825.4L1601.1,825.4L1601.7,825.4L1602.2,825.4L1602.8,825.4L1603.3,827.6L1603.9,825.4L1604.4,825.4L1604.9,825.4L1605.5,823.2L1606.0,827.6L1606.6,825.4L1607.1,827.6L1607.6,825.4L1608.2,825.4L1608.7,825.4L1609.3,827.6L1609.8,825.4L1610.3,825.4L1610.9,823.2L1611.4,825.4L1612.0,825.4L1612.5,825.4L1613.1,827.6L1613.6,827.6L1614.1,825.4L1614.7,827.6L1615.2,825.4L1615.8,825.4L1616.3,825.4L1616.8,827.6L1617.4,825.4L1617.9,827.6L1618.5,827.6L1619.0,825.4L1619.5,827.6L1620.1,825.4L1620.6,825.4L1621.2,825.4L1621.7,825.4L1622.2,827.6L1622.8,827.6L1623.3,825.4L1623.9,825.4L1624.4,825.4L1625.0,827.6L1625.5,827.6L1626.0,825.4L1626.6,827.6L1627.1,827.6L1627.7,825.4L1628.2,827.6L1628.7,825.4L1629.3,825.4L1629.8,827.6L1630.4,827.6L1630.9,825.4L1631.4,825.4L1632.0,825.4L1632.5,827.6L1633.1,825.4L1633.6,827.6L1634.1,825.4L1634.7,827.6L1635.2,827.6L1635.8,827.6L1636.3,825.4L1636.9,825.4L1637.4,825.4L1637.9,825.4L1638.5,827.6L1639.0,827.6L1639.6,825.4L1640.1,827.6L1640.6,825.4L1641.2,827.6L1641.7,825.4L1642.3,825.4L1642.8,825.4L1643.3,825.4L1643.9,825.4L1644.4,825.4L1645.0,825.4L1645.5,827.6L1646.1,827.6L1646.6,827.6L1647.1,825.4L1647.7,825.4L1648.2,823.2L1648.8,823.2L1649.3,823.2L1649.8,827.6L1650.4,823.2L1650.9,825.4L1651.5,823.2L1652.0,825.4L1652.5,825.4L1653.1,823.3L1653.6,821.0L1654.2,823.3L1654.7,827.6L1655.2,823.1L1655.8,823.3L1656.3,827.6L1656.9,823.3L1657.4,825.3L1658.0,821.1L1658.5,823.2L1659.0,825.5L1659.6,823.3L1660.1,827.5L1660.7,818.9L1661.2,825.3L1661.7,825.2L1662.3,819.0L1662.8,825.6L1663.4,818.6L1663.9,821.1L1664.4,816.5L1665.0,818.7L1665.5,818.8L1666.1,814.5L1666.6,821.3L1667.2,821.2L1667.7,819.1L1668.2,820.9L1668.8,816.4L1669.3,814.6L1669.9,816.5L1670.4,816.8L1670.9,819.2L1671.5,816.7L1672.0,818.6L1672.6,816.3L1673.1,816.4L1673.6,818.4L1674.2,812.3L1674.7,818.6L1675.3,825.8L1675.8,810.5L1676.3,816.3L1676.9,814.6L1677.4,820.7L1678.0,818.5L1678.5,817.1L1679.1,824.8L1679.6,820.5L1680.1,807.7L1680.7,814.5L1681.2,821.1L1681.8,814.4L1682.3,819.6L1682.8,808.3L1683.4,818.4L1683.9,816.3L1684.5,812.1L1685.0,809.2L1685.5,808.1L1686.1,816.0L1686.6,803.5L1687.2,810.7L1687.7,817.4L1688.2,802.1L1688.8,810.3L1689.3,804.9L1689.9,812.5L1690.4,807.2L1691.0,820.2L1691.5,816.8L1692.0,819.4L1692.6,814.7L1693.1,818.4L1693.7,818.2L1694.2,818.0L1694.7,822.8L1695.3,806.1L1695.8,811.8L1696.4,818.5L1696.9,817.0L1697.4,816.9L1698.0,816.2L1698.5,814.3L1699.1,818.6L1699.6,820.6L1700.2,814.8L1700.7,820.7L1701.2,818.6L1701.8,818.9L1702.3,812.6L1702.9,821.4L1703.4,822.8L1703.9,816.6L1704.5,812.5L1705.0,820.9L1705.6,814.5L1706.1,823.3L1706.6,816.7L1707.2,814.5L1707.7,823.5L1708.3,822.9L1708.8,814.3L1709.3,823.5L1709.9,816.7L1710.4,816.8L1711.0,821.1L1711.5,816.4L1712.1,819.1L1712.6,825.2L1713.1,812.0L1713.7,814.4L1714.2,812.1L1714.8,814.0L1715.3,818.5L1715.8,818.9L1716.4,814.3L1716.9,825.4L1717.5,816.9L1718.0,823.3L1718.5,814.2L1719.1,827.3L1719.6,814.4L1720.2,816.7L1720.7,827.3L1721.3,816.6L1721.8,821.2L1722.3,818.8L1722.9,823.3L1723.4,821.1L1724.0,827.6L1724.5,827.5L1725.0,827.6L1725.6,821.0L1726.1,825.5L1726.7,823.3L1727.2,827.6L1727.7,825.4L1728.3,825.4L1728.8,827.6L1729.4,821.0L1729.9,827.6L1730.4,827.6L1731.0,827.6L1731.5,825.4L1732.1,827.6L1732.6,825.4L1733.2,827.6L1733.7,827.6L1734.2,827.6L1734.8,827.6L1735.3,825.4L1735.9,825.4L1736.4,825.4L1736.9,825.4L1737.5,825.4L1738.0,827.6L1738.6,827.6L1739.1,825.4L1739.6,827.6L1740.2,827.6L1740.7,827.6L1741.3,827.6L1741.8,827.6L1742.3,825.4L1742.9,827.6L1743.4,827.6L1744.0,827.6L1744.5,827.6L1745.1,825.4L1745.6,827.6L1746.1,827.6L1746.7,827.6L1747.2,825.4L1747.8,825.4L1748.3,827.6L1748.8,827.6L1749.4,827.6L1749.9,825.4L1750.5,825.4L1751.0,827.6L1751.5,825.4L1752.1,825.4L1752.6,827.6L1753.2,827.6L1753.7,827.6L1754.3,827.6L1754.8,827.6L1755.3,827.6L1755.9,827.6L1756.4,825.4L1757.0,827.6L1757.5,825.4L1758.0,827.6L1758.6,827.6L1759.1,825.4L1759.7,827.6L1760.2,827.6L1760.7,825.4L1761.3,827.6L1761.8,827.6L1762.4,825.4L1762.9,827.6L1763.4,825.4L1764.0,827.6L1764.5,827.6L1765.1,827.6L1765.6,827.6L1766.2,827.6L1766.7,827.6L1767.2,827.6L1767.8,825.4L1768.3,827.6L1768.9,825.4L1769.4,825.4L1769.9,827.6L1770.5,825.4L1771.0,827.6L1771.6,825.4L1772.1,825.4L1772.6,825.4L1773.2,827.6L1773.7,827.6L1774.3,827.6L1774.8,827.6L1775.4,821.0L1775.9,827.6L1776.4,825.4L1777.0,827.6L1777.5,825.4L1778.1,827.6L1778.6,827.6L1779.1,825.4L1779.7,827.6L1780.2,827.6L1780.8,827.6L1781.3,827.6L1781.8,825.4L1782.4,827.6L1782.9,825.4L1783.5,827.6L1784.0,827.6L1784.5,827.6L1785.1,827.6L1785.6,825.4L1786.2,827.6L1786.7,825.4L1787.3,825.4L1787.8,827.6L1788.3,827.6L1788.9,827.6L1789.4,827.6L1790.0,827.6L1790.5,827.6L1791.0,827.6L1791.6,827.6L1792.1,825.4L1792.7,825.4L1793.2,827.6L1793.7,827.6L1794.3,827.6L1794.8,827.6L1795.4,825.4L1795.9,825.4L1796.4,827.6L1797.0,825.4L1797.5,827.6L1798.1,827.6L1798.6,825.4L1799.2,827.6L1799.7,827.6L1800.2,827.6L1800.8,827.6L1801.3,825.4L1801.9,827.6L1802.4,825.4L1802.9,825.4L1803.5,827.6L1804.0,827.6L1804.6,827.6L1805.1,827.6L1805.6,827.6L1806.2,827.6L1806.7,827.6L1807.3,827.6L1807.8,827.6L1808.4,825.4L1808.9,825.4L1809.4,825.4L1810.0,827.6L1810.5,827.6L1811.1,827.6L1811.6,825.4L1812.1,827.6L1812.7,825.4L1813.2,827.6L1813.8,825.4L1814.3,827.6L1814.8,827.6L1815.4,827.6L1815.9,825.4L1816.5,825.4L1817.0,827.6L1817.5,827.6L1818.1,825.4L1818.6,825.4L1819.2,827.6L1819.7,827.6L1820.3,825.4L1820.8,825.4L1821.3,827.6L1821.9,827.6L1822.4,825.4L1823.0,827.6L1823.5,825.4" fill="none" stroke="#ff0000" stroke-width="10.3" stroke-linejoin="round" stroke-linecap="round"/>
<path d="M200.5,579.1L201.0,579.1L201.6,582.3L202.1,585.5L202.7,588.7L203.2,585.5L203.7,585.5L204.3,588.7L204.8,588.7L205.4,575.9L205.9,579.1L206.5,585.5L207.0,582.3L207.5,575.9L208.1,575.9L208.6,575.9L209.2,585.5L209.7,582.3L210.2,579.1L210.8,588.7L211.3,582.3L211.9,585.5L212.4,575.9L212.9,588.7L213.5,579.1L214.0,575.9L214.6,585.5L215.1,575.9L215.6,575.9L216.2,588.7L216.7,579.1L217.3,588.7L217.8,582.3L218.4,582.3L218.9,585.5L219.4,585.5L220.0,579.1L220.5,585.5L221.1,588.7L221.6,579.1L222.1,582.3L222.7,579.1L223.2,585.5L223.8,585.5L224.3,579.1L224.8,582.3L225.4,582.3L225.9,585.5L226.5,588.7L227.0,575.9L227.5,588.7L228.1,575.9L228.6,585.5L229.2,575.9L229.7,582.3L230.3,575.9L230.8,582.3L231.3,585.5L231.9,575.9L232.4,579.1L233.0,579.1L233.5,582.3L234.0,585.5L234.6,579.1L235.1,588.7L235.7,579.1L236.2,579.1L236.7,585.5L237.3,579.1L237.8,585.5L238.4,582.3L238.9,579.1L239.5,585.5L240.0,579.1L240.5,579.1L241.1,575.9L241.6,575.9L242.2,579.1L242.7,575.9L243.2,588.7L243.8,579.1L244.3,575.9L244.9,582.3L245.4,582.3L245.9,582.3L246.5,575.9L247.0,585.5L247.6,582.3L248.1,588.7L248.6,582.3L249.2,579.1L249.7,575.9L250.3,575.9L250.8,585.5L251.4,575.8L251.9,585.5L252.4,575.9L253.0,588.6L253.5,582.3L254.1,588.7L254.6,575.9L255.1,575.9L255.7,588.7L256.2,582.3L256.8,585.5L257.3,582.3L257.8,582.2L258.4,588.7L258.9,575.9L259.5,585.5L260.0,582.3L260.6,588.7L261.1,588.7L261.6,585.5L262.2,585.4L262.7,575.9L263.3,575.9L263.8,582.3L264.3,582.3L264.9,579.1L265.4,575.9L266.0,585.4L266.5,576.0L267.0,582.3L267.6,579.1L268.1,579.0L268.7,582.2L269.2,579.0L269.7,579.0L270.3,588.7L270.8,588.7L271.4,585.6L271.9,585.5L272.5,585.5L273.0,588.7L273.5,585.5L274.1,579.1L274.6,575.8L275.2,582.4L275.7,582.4L276.2,582.3L276.8,579.0L277.3,575.9L277.9,572.7L278.4,582.3L278.9,576.0L279.5,582.4L280.0,575.7L280.6,585.4L281.1,572.8L281.6,579.2L282.2,575.9L282.7,579.1L283.3,582.4L283.8,579.1L284.4,588.5L284.9,588.5L285.4,579.0L286.0,579.1L286.5,572.6L287.1,588.5L287.6,576.1L288.1,578.9L288.7,569.5L289.2,569.6L289.8,576.1L290.3,575.9L290.8,576.2L291.4,575.6L291.9,582.2L292.5,575.8L293.0,572.7L293.6,582.4L294.1,566.1L294.6,569.7L295.2,566.1L295.7,579.2L296.3,576.0L296.8,579.3L297.3,585.1L297.9,585.3L298.4,572.9L299.0,566.0L299.5,581.8L300.0,569.2L300.6,578.9L301.1,579.3L301.7,579.3L302.2,567.0L302.7,572.3L303.3,569.9L303.8,572.6L304.4,576.3L304.9,572.0L305.5,560.1L306.0,578.6L306.5,563.8L307.1,576.2L307.6,578.4L308.2,575.1L308.7,579.6L309.2,559.1L309.8,572.8L310.3,578.3L310.9,582.2L311.4,579.8L311.9,576.1L312.5,570.3L313.0,566.1L313.6,556.2L314.1,557.5L314.7,575.4L315.2,565.6L315.7,556.7L316.3,578.6L316.8,557.5L317.4,569.9L317.9,559.6L318.4,572.1L319.0,563.1L319.5,566.2L320.1,576.6L320.6,558.9L321.1,556.3L321.7,565.6L322.2,567.2L322.8,550.7L323.3,566.8L323.8,551.1L324.4,564.1L324.9,565.1L325.5,564.3L326.0,573.0L326.6,565.2L327.1,565.7L327.6,570.1L328.2,552.5L328.7,554.1L329.3,567.2L329.8,560.6L330.3,529.3L330.9,556.8L331.4,544.2L332.0,516.7L332.5,546.7L333.0,529.5L333.6,507.7L334.1,533.3L334.7,523.9L335.2,480.2L335.7,480.9L336.3,487.7L336.8,467.1L337.4,463.8L337.9,423.5L338.5,406.3L339.0,426.8L339.5,392.6L340.1,391.2L340.6,368.1L341.2,342.5L341.7,335.1L342.2,352.1L342.8,346.3L343.3,347.0L343.9,357.3L344.4,357.0L344.9,366.8L345.5,400.7L346.0,412.1L346.6,443.0L347.1,445.7L347.7,435.9L348.2,467.0L348.7,476.5L349.3,485.1L349.8,496.1L350.4,494.8L350.9,524.6L351.4,528.9L352.0,511.3L352.5,532.2L353.1,517.9L353.6,555.0L354.1,533.0L354.7,548.0L355.2,550.5L355.8,538.5L356.3,566.5L356.8,555.2L357.4,565.4L357.9,563.6L358.5,550.1L359.0,563.9L359.6,553.4L360.1,576.8L360.6,549.2L361.2,550.8L361.7,559.6L362.3,573.3L362.8,560.7L363.3,574.8L363.9,569.5L364.4,579.0L365.0,578.5L365.5,575.9L366.0,575.5L366.6,557.3L367.1,573.4L367.7,557.7L368.2,579.9L368.8,579.1L369.3,579.1L369.8,556.3L370.4,559.6L370.9,581.4L371.5,556.9L372.0,575.8L372.5,575.4L373.1,566.9L373.6,576.6L374.2,559.2L374.7,573.4L375.2,569.6L375.8,569.8L376.3,578.4L376.9,566.8L377.4,562.8L377.9,572.4L378.5,582.7L379.0,569.1L379.6,572.4L380.1,575.9L380.7,572.8L381.2,582.1L381.7,581.9L382.3,576.2L382.8,585.6L383.4,576.0L383.9,585.2L384.4,582.5L385.0,572.5L385.5,576.2L386.1,582.6L386.6,575.9L387.1,569.7L387.7,572.7L388.2,575.7L388.8,579.2L389.3,579.0L389.8,579.1L390.4,588.5L390.9,576.1L391.5,579.2L392.0,579.2L392.6,576.0L393.1,582.2L393.6,585.5L394.2,569.5L394.7,585.3L395.3,585.4L395.8,588.6L396.3,582.5L396.9,579.2L397.4,588.6L398.0,585.3L398.5,585.4L399.0,585.6L399.6,575.9L400.1,572.7L400.7,572.8L401.2,582.1L401.8,588.5L402.3,582.3L402.8,575.9L403.4,582.2L403.9,575.8L404.5,575.7L405.0,572.5L405.5,579.1L406.1,582.5L406.6,569.8L407.2,569.8L407.7,585.4L408.2,582.5L408.8,575.6L409.3,572.4L409.9,569.3L410.4,585.8L410.9,582.6L411.5,579.1L412.0,576.1L412.6,572.6L413.1,576.1L413.7,578.7L414.2,582.4L414.7,575.8L415.3,576.1L415.8,569.7L416.4,585.3L416.9,585.5L417.4,582.2L418.0,582.4L418.5,579.4L419.1,585.5L419.6,576.0L420.1,575.8L420.7,588.7L421.2,575.7L421.8,588.6L422.3,585.4L422.9,582.2L423.4,582.4L423.9,585.6L424.5,579.1L425.0,576.0L425.6,585.5L426.1,588.6L426.6,582.3L427.2,588.6L427.7,575.9L428.3,579.0L428.8,579.0L429.3,585.4L429.9,579.1L430.4,585.4L431.0,582.4L431.5,588.7L432.0,588.7L432.6,582.2L433.1,588.6L433.7,575.9L434.2,582.3L434.8,582.3L435.3,579.1L435.8,585.5L436.4,588.7L436.9,585.6L437.5,582.4L438.0,588.7L438.5,585.5L439.1,579.1L439.6,585.5L440.2,585.5L440.7,585.5L441.2,582.3L441.8,575.9L442.3,588.7L442.9,579.1L443.4,579.1L443.9,582.3L444.5,582.3L445.0,582.3L445.6,588.7L446.1,582.3L446.7,575.9L447.2,579.1L447.7,585.5L448.3,585.5L448.8,579.1L449.4,588.7L449.9,588.7L450.4,579.1L451.0,582.3L451.5,579.1L452.1,582.3L452.6,588.7L453.1,582.3L453.7,582.3L454.2,588.7L454.8,585.5L455.3,579.1L455.9,588.7L456.4,588.7L456.9,588.7L457.5,582.3L458.0,579.1L458.6,588.7L459.1,579.1L459.6,588.7L460.2,582.3L460.7,579.1L461.3,588.7L461.8,585.5L462.3,579.1L462.9,585.5L463.4,579.1L464.0,585.5L464.5,579.1L465.0,585.5L465.6,579.1L466.1,588.7L466.7,585.5L467.2,588.7L467.8,585.5L468.3,585.5L468.8,585.5L469.4,585.5L469.9,582.3L470.5,582.3L471.0,585.5L471.5,582.3L472.1,582.3L472.6,585.5L473.2,585.5L473.7,588.7L474.2,579.1L474.8,585.5L475.3,585.5L475.9,579.1L476.4,585.5L477.0,588.7L477.5,585.5L478.0,582.3L478.6,582.3L479.1,585.5L479.7,582.3L480.2,588.7L480.7,579.1L481.3,585.5L481.8,585.5L482.4,585.5L482.9,585.5L483.4,575.9L484.0,585.5L484.5,588.7L485.1,585.5L485.6,585.5L486.1,585.5L486.7,588.7L487.2,579.1L487.8,588.7L488.3,582.3L488.9,585.5L489.4,582.4L489.9,582.3L490.5,588.7L491.0,582.4L491.6,585.4L492.1,585.5L492.6,588.7L493.2,585.5L493.7,582.4L494.3,582.4L494.8,585.5L495.3,588.7L495.9,585.5L496.4,582.2L497.0,579.1L497.5,579.1L498.0,588.7L498.6,585.4L499.1,582.3L499.7,579.0L500.2,582.2L500.8,579.0L501.3,579.1L501.8,588.6L502.4,575.8L502.9,582.1L503.5,579.2L504.0,585.4L504.5,575.8L505.1,572.8L505.6,582.5L506.2,582.1L506.7,588.5L507.2,569.5L507.8,578.9L508.3,585.3L508.9,575.7L509.4,579.1L510.0,572.7L510.5,575.6L511.0,585.7L511.6,585.2L512.1,572.9L512.7,588.4L513.2,585.5L513.7,572.6L514.3,573.0L514.8,582.6L515.4,582.3L515.9,588.4L516.4,585.6L517.0,588.5L517.5,578.9L518.1,578.9L518.6,585.6L519.1,575.6L519.7,579.3L520.2,579.0L520.8,578.9L521.3,585.5L521.9,575.9L522.4,582.3L522.9,582.1L523.5,585.7L524.0,585.4L524.6,582.3L525.1,579.0L525.6,582.3L526.2,582.2L526.7,579.0L527.3,582.4L527.8,588.7L528.3,582.2L528.9,575.9L529.4,588.7L530.0,582.4L530.5,582.2L531.1,582.4L531.6,588.7L532.1,582.3L532.7,588.7L533.2,588.7L533.8,585.5L534.3,588.6L534.8,582.4L535.4,579.1L535.9,588.6L536.5,579.1L537.0,585.5L537.5,579.1L538.1,582.3L538.6,579.1L539.2,579.1L539.7,579.1L540.2,588.7L540.8,579.1L541.3,588.7L541.9,582.3L542.4,588.7L543.0,585.5L543.5,588.7L544.0,582.3L544.6,585.5L545.1,582.3L545.7,588.7L546.2,585.5L546.7,579.1L547.3,582.3L547.8,585.5L548.4,582.3L548.9,579.1L549.4,585.5L550.0,588.7L550.5,588.7L551.1,588.7L551.6,585.5L552.1,582.3L552.7,582.3L553.2,588.7L553.8,588.7L554.3,585.5L554.9,579.1L555.4,585.5L555.9,585.5L556.5,585.5L557.0,582.3L557.6,582.3L558.1,585.5L558.6,582.3L559.2,579.1L559.7,585.5L560.3,585.5L560.8,588.7L561.3,588.7L561.9,588.7L562.4,588.7L563.0,588.7L563.5,579.1L564.1,582.3L564.6,582.3L565.1,582.3L565.7,588.7L566.2,585.5L566.8,582.3L567.3,579.1L567.8,585.5L568.4,588.7L568.9,588.7L569.5,588.7L570.0,582.3L570.5,579.1L571.1,588.7L571.6,582.3L572.2,588.7L572.7,582.3L573.2,582.3L573.8,585.5L574.3,585.5L574.9,588.7L575.4,579.1L576.0,585.5L576.5,588.7L577.0,582.3L577.6,582.3L578.1,585.5L578.7,582.3L579.2,588.7L579.7,588.7L580.3,579.1L580.8,582.3L581.4,582.3L581.9,582.3L582.4,588.7L583.0,588.7L583.5,582.3L584.1,588.7L584.6,588.7L585.2,585.5L585.7,582.3L586.2,579.1L586.8,585.5L587.3,585.5L587.9,579.1L588.4,585.5L588.9,585.5L589.5,585.5L590.0,588.7L590.6,588.7L591.1,588.7L591.6,582.3L592.2,585.5L592.7,582.3L593.3,585.5L593.8,585.5L594.3,579.1L594.9,585.5L595.4,588.7L596.0,582.3L596.5,588.7L597.1,585.5L597.6,585.5L598.1,585.5L598.7,582.3L599.2,582.3L599.8,579.1L600.3,582.3L600.8,582.3L601.4,579.1L601.9,585.5L602.5,585.5L603.0,588.7L603.5,585.5L604.1,588.7L604.6,588.7L605.2,585.5L605.7,585.5L606.2,582.3L606.8,585.5L607.3,582.3L607.9,588.7L608.4,582.3L609.0,582.3L609.5,588.7L610.0,585.5L610.6,582.3L611.1,588.7L611.7,582.3L612.2,579.1L612.7,582.3L613.3,582.3L613.8,582.3L614.4,575.9L614.9,579.1L615.4,585.5L616.0,582.3L616.5,588.7L617.1,579.1L617.6,588.7L618.2,585.5L618.7,582.3L619.2,588.7L619.8,585.5L620.3,585.5L620.9,582.3L621.4,585.4L621.9,579.1L622.5,582.3L623.0,582.3L623.6,588.7L624.1,582.3L624.6,579.1L625.2,588.7L625.7,579.2L626.3,579.2L626.8,588.7L627.3,582.3L627.9,585.5L628.4,585.5L629.0,579.0L629.5,582.3L630.1,582.4L630.6,579.1L631.1,585.5L631.7,588.7L632.2,576.0L632.8,588.6L633.3,579.0L633.8,576.0L634.4,582.4L634.9,588.6L635.5,582.4L636.0,582.3L636.5,579.0L637.1,575.8L637.6,585.5L638.2,588.7L638.7,575.7L639.3,588.7L639.8,572.9L640.3,575.7L640.9,573.0L641.4,582.2L642.0,585.4L642.5,578.9L643.0,579.4L643.6,575.8L644.1,585.2L644.7,579.1L645.2,569.8L645.7,575.9L646.3,569.4L646.8,572.5L647.4,582.8L647.9,572.9L648.4,582.2L649.0,585.0L649.5,572.7L650.1,585.2L650.6,582.9L651.2,575.9L651.7,579.6L652.2,569.2L652.8,576.6L653.3,578.5L653.9,569.9L654.4,570.1L654.9,562.7L655.5,562.8L656.0,559.7L656.6,579.3L657.1,580.0L657.6,563.0L658.2,572.0L658.7,579.8L659.3,568.5L659.8,573.0L660.3,575.8L660.9,563.9L661.4,562.7L662.0,575.0L662.5,563.8L663.1,575.6L663.6,559.1L664.1,571.7L664.7,569.4L665.2,576.7L665.8,569.6L666.3,575.0L666.8,562.2L667.4,578.4L667.9,568.5L668.5,571.7L669.0,557.6L669.5,564.0L670.1,566.5L670.6,576.7L671.2,578.3L671.7,564.0L672.3,555.8L672.8,577.0L673.3,567.2L673.9,568.5L674.4,577.1L675.0,559.4L675.5,563.1L676.0,561.4L676.6,549.8L677.1,555.0L677.7,566.0L678.2,541.7L678.7,541.5L679.3,548.0L679.8,566.3L680.4,548.0L680.9,569.1L681.4,558.6L682.0,553.0L682.5,551.8L683.1,540.1L683.6,548.4L684.2,545.7L684.7,553.2L685.2,544.3L685.8,563.8L686.3,540.9L686.9,544.3L687.4,543.5L687.9,543.9L688.5,550.8L689.0,567.2L689.6,550.2L690.1,554.7L690.6,565.9L691.2,576.8L691.7,554.6L692.3,575.9L692.8,578.2L693.4,569.3L693.9,562.8L694.4,576.6L695.0,579.0L695.5,566.3L696.1,572.1L696.6,572.1L697.1,570.2L697.7,566.2L698.2,566.3L698.8,578.4L699.3,575.5L699.8,559.9L700.4,563.0L700.9,569.5L701.5,573.6L702.0,559.5L702.5,573.7L703.1,569.3L703.6,565.7L704.2,560.3L704.7,562.2L705.3,562.6L705.8,575.3L706.3,572.1L706.9,562.1L707.4,566.5L708.0,559.2L708.5,579.9L709.0,559.5L709.6,572.2L710.1,576.5L710.7,582.3L711.2,582.8L711.7,565.8L712.3,569.8L712.8,566.8L713.4,572.3L713.9,579.3L714.4,585.2L715.0,579.1L715.5,585.3L716.1,585.6L716.6,579.3L717.2,582.1L717.7,575.8L718.2,579.0L718.8,582.3L719.3,588.6L719.9,582.3L720.4,582.2L720.9,576.0L721.5,582.4L722.0,585.4L722.6,588.7L723.1,585.5L723.6,579.1L724.2,588.7L724.7,582.4L725.3,579.1L725.8,579.1L726.4,588.7L726.9,585.5L727.4,588.7L728.0,579.1L728.5,582.3L729.1,585.6L729.6,585.5L730.1,582.3L730.7,588.7L731.2,588.7L731.8,582.3L732.3,585.5L732.8,588.7L733.4,579.1L733.9,582.3L734.5,582.3L735.0,582.3L735.5,585.5L736.1,588.7L736.6,582.3L737.2,585.5L737.7,582.3L738.3,582.3L738.8,582.3L739.3,588.7L739.9,588.7L740.4,582.3L741.0,582.3L741.5,582.3L742.0,588.7L742.6,585.5L743.1,588.7L743.7,588.7L744.2,588.7L744.7,588.7L745.3,588.7L745.8,588.7L746.4,582.3L746.9,585.5L747.5,582.3L748.0,579.1L748.5,588.7L749.1,588.7L749.6,585.5L750.2,582.3L750.7,582.3L751.2,582.3L751.8,588.7L752.3,588.7L752.9,585.5L753.4,582.3L753.9,588.7L754.5,582.3L755.0,582.3L755.6,585.5L756.1,582.3L756.6,582.3L757.2,588.7L757.7,588.7L758.3,585.5L758.8,588.7L759.4,585.5L759.9,582.3L760.4,582.3L761.0,582.3L761.5,585.5L762.1,582.3L762.6,588.7L763.1,582.3L763.7,585.5L764.2,582.3L764.8,588.7L765.3,588.7L765.8,588.7L766.4,585.5L766.9,582.3L767.5,588.7L768.0,582.3L768.5,582.3L769.1,588.7L769.6,585.5L770.2,582.3L770.7,588.7L771.3,582.3L771.8,585.5L772.3,582.3L772.9,588.7L773.4,588.7L774.0,585.5L774.5,582.3L775.0,588.7L775.6,588.7L776.1,588.7L776.7,579.1L777.2,582.3L777.7,588.7L778.3,582.3L778.8,585.5L779.4,588.7L779.9,588.7L780.5,588.7L781.0,588.7L781.5,588.7L782.1,588.7L782.6,588.7L783.2,588.7L783.7,585.5L784.2,582.3L784.8,582.3L785.3,585.5L785.9,588.7L786.4,582.3L786.9,588.7L787.5,588.7L788.0,582.3L788.6,585.5L789.1,582.3L789.6,588.7L790.2,582.3L790.7,582.3L791.3,588.7L791.8,582.3L792.4,582.3L792.9,582.3L793.4,585.5L794.0,582.3L794.5,582.3L795.1,582.3L795.6,588.7L796.1,588.7L796.7,582.3L797.2,585.5L797.8,582.3L798.3,585.5L798.8,588.7L799.4,585.5L799.9,582.3L800.5,582.3L801.0,588.7L801.6,588.7L802.1,585.5L802.6,579.1L803.2,585.5L803.7,588.7L804.3,588.7L804.8,588.7L805.3,585.5L805.9,588.7L806.4,588.7L807.0,582.3L807.5,582.3L808.0,585.5L808.6,588.7L809.1,585.5L809.7,582.3L810.2,585.5L810.7,585.5L811.3,588.7L811.8,585.5L812.4,588.7L812.9,582.3L813.5,579.1L814.0,588.7L814.5,585.5L815.1,582.3L815.6,588.7L816.2,582.3L816.7,588.7L817.2,585.5L817.8,582.3L818.3,582.3L818.9,582.3L819.4,585.5L819.9,585.5L820.5,588.7L821.0,579.1L821.6,582.3L822.1,585.5L822.6,585.5L823.2,585.5L823.7,585.5L824.3,585.5L824.8,582.3L825.4,588.7L825.9,582.3L826.4,585.5L827.0,585.5L827.5,585.5L828.1,588.7L828.6,585.5L829.1,585.5L829.7,588.7L830.2,588.7L830.8,588.7L831.3,585.5L831.8,588.7L832.4,582.3L832.9,585.5L833.5,582.3L834.0,588.7L834.6,585.5L835.1,588.7L835.6,582.3L836.2,585.5L836.7,588.7L837.3,585.5L837.8,585.5L838.3,588.7L838.9,582.3L839.4,588.7L840.0,582.3L840.5,582.3L841.0,582.3L841.6,582.3L842.1,582.3L842.7,582.3L843.2,588.7L843.7,588.7L844.3,582.3L844.8,585.5L845.4,582.3L845.9,585.5L846.5,585.5L847.0,582.3L847.5,588.7L848.1,585.5L848.6,582.3L849.2,585.5L849.7,582.3L850.2,588.7L850.8,588.7L851.3,582.3L851.9,588.7L852.4,588.7L852.9,588.7L853.5,588.7L854.0,585.5L854.6,585.5L855.1,582.3L855.7,579.1L856.2,585.5L856.7,585.5L857.3,585.5L857.8,585.5L858.4,582.3L858.9,585.5L859.4,582.3L860.0,582.3L860.5,585.5L861.1,585.5L861.6,588.7L862.1,582.3L862.7,582.3L863.2,585.5L863.8,588.7L864.3,582.3L864.8,588.7L865.4,582.3L865.9,582.3L866.5,585.5L867.0,585.5L867.6,585.5L868.1,585.5L868.6,582.3L869.2,585.5L869.7,582.3L870.3,582.3L870.8,588.7L871.3,582.3L871.9,585.5L872.4,579.1L873.0,585.5L873.5,585.5L874.0,585.5L874.6,582.3L875.1,585.5L875.7,588.7L876.2,582.3L876.7,585.5L877.3,585.5L877.8,588.7L878.4,582.3L878.9,585.5L879.5,585.5L880.0,582.3L880.5,588.7L881.1,585.5L881.6,588.7L882.2,585.5L882.7,582.3L883.2,582.3L883.8,588.7L884.3,582.3L884.9,582.3L885.4,582.3L885.9,585.5L886.5,585.5L887.0,585.5L887.6,588.7L888.1,588.7L888.7,582.3L889.2,588.7L889.7,585.5L890.3,582.3L890.8,585.5L891.4,585.5L891.9,585.5L892.4,588.7L893.0,588.7L893.5,585.5L894.1,582.3L894.6,585.5L895.1,579.1L895.7,588.7L896.2,588.7L896.8,582.3L897.3,582.3L897.8,579.1L898.4,582.3L898.9,585.5L899.5,585.5L900.0,582.3L900.6,585.5L901.1,585.5L901.6,582.3L902.2,582.3L902.7,588.7L903.3,582.3L903.8,585.5L904.3,582.3L904.9,579.1L905.4,582.3L906.0,588.7L906.5,585.5L907.0,585.5L907.6,588.7L908.1,588.7L908.7,582.3L909.2,585.5L909.8,585.5L910.3,585.5L910.8,582.3L911.4,582.3L911.9,582.3L912.5,585.5L913.0,582.3L913.5,585.5L914.1,588.7L914.6,582.3L915.2,582.3L915.7,585.5L916.2,585.5L916.8,585.5L917.3,585.5L917.9,585.5L918.4,582.3L918.9,585.5L919.5,582.3L920.0,588.7L920.6,585.5L921.1,582.3L921.7,582.3L922.2,588.7L922.7,585.5L923.3,585.5L923.8,582.3L924.4,588.7L924.9,588.7L925.4,585.5L926.0,585.5L926.5,582.3L927.1,585.5L927.6,582.3L928.1,588.6L928.7,585.5L929.2,582.2L929.8,585.5L930.3,585.4L930.8,585.5L931.4,588.7L931.9,585.4L932.5,588.7L933.0,588.7L933.6,582.2L934.1,582.2L934.6,579.0L935.2,579.2L935.7,585.4L936.3,585.6L936.8,585.6L937.3,585.6L937.9,579.0L938.4,585.4L939.0,582.3L939.5,582.3L940.0,588.6L940.6,582.2L941.1,588.7L941.7,579.2L942.2,585.5L942.8,575.8L943.3,579.2L943.8,582.1L944.4,585.7L944.9,585.2L945.5,582.6L946.0,572.7L946.5,579.1L947.1,578.9L947.6,578.9L948.2,579.4L948.7,572.9L949.2,576.0L949.8,572.9L950.3,568.9L950.9,568.7L951.4,576.9L951.9,556.2L952.5,573.0L953.0,557.9L953.6,541.1L954.1,531.4L954.7,547.1L955.2,530.4L955.7,516.3L956.3,521.0L956.8,501.4L957.4,481.9L957.9,487.7L958.4,460.2L959.0,450.7L959.5,495.8L960.1,466.3L960.6,498.4L961.1,498.9L961.7,522.3L962.2,533.8L962.8,558.0L963.3,557.1L963.9,570.2L964.4,558.6L964.9,559.3L965.5,569.5L966.0,559.7L966.6,560.4L967.1,579.0L967.6,578.7L968.2,582.1L968.7,582.2L969.3,573.1L969.8,572.9L970.3,569.7L970.9,579.0L971.4,582.1L972.0,572.7L972.5,588.5L973.0,579.4L973.6,585.3L974.1,578.9L974.7,585.3L975.2,588.5L975.8,575.9L976.3,575.9L976.8,576.0L977.4,588.5L977.9,585.5L978.5,585.4L979.0,585.4L979.5,582.3L980.1,579.1L980.6,576.0L981.2,579.2L981.7,579.2L982.2,585.4L982.8,585.5L983.3,579.0L983.9,585.5L984.4,579.1L984.9,582.2L985.5,585.5L986.0,588.6L986.6,582.3L987.1,582.3L987.7,582.4L988.2,582.4L988.7,585.6L989.3,579.1L989.8,585.4L990.4,579.1L990.9,582.2L991.4,582.3L992.0,588.7L992.5,588.7L993.1,585.5L993.6,579.1L994.1,588.7L994.7,588.7L995.2,588.7L995.8,588.7L996.3,582.3L996.9,588.7L997.4,582.3L997.9,582.3L998.5,582.3L999.0,582.3L999.6,585.5L1000.1,579.1L1000.6,585.5L1001.2,582.3L1001.7,582.3L1002.3,585.5L1002.8,582.3L1003.3,588.7L1003.9,585.5L1004.4,585.5L1005.0,588.7L1005.5,585.5L1006.0,579.1L1006.6,582.3L1007.1,585.5L1007.7,582.3L1008.2,582.3L1008.8,582.3L1009.3,582.3L1009.8,582.3L1010.4,585.5L1010.9,582.3L1011.5,585.5L1012.0,585.5L1012.5,585.5L1013.1,579.1L1013.6,582.3L1014.2,585.5L1014.7,579.1L1015.2,582.3L1015.8,585.5L1016.3,582.3L1016.9,585.5L1017.4,588.7L1018.0,585.5L1018.5,588.7L1019.0,579.1L1019.6,582.3L1020.1,588.7L1020.7,588.7L1021.2,588.7L1021.7,582.3L1022.3,582.3L1022.8,585.5L1023.4,588.7L1023.9,588.7L1024.4,585.5L1025.0,588.7L1025.5,588.7L1026.1,588.7L1026.6,579.1L1027.1,588.7L1027.7,582.3L1028.2,582.3L1028.8,582.3L1029.3,582.3L1029.9,585.5L1030.4,575.9L1030.9,582.3L1031.5,585.5L1032.0,585.5L1032.6,585.5L1033.1,588.7L1033.6,582.3L1034.2,582.3L1034.7,582.3L1035.3,588.7L1035.8,588.7L1036.3,585.5L1036.9,585.5L1037.4,588.7L1038.0,588.7L1038.5,588.7L1039.0,588.7L1039.6,585.5L1040.1,582.3L1040.7,588.7L1041.2,588.7L1041.8,579.1L1042.3,588.7L1042.8,588.7L1043.4,582.3L1043.9,585.5L1044.5,585.5L1045.0,579.1L1045.5,588.7L1046.1,585.5L1046.6,582.3L1047.2,582.3L1047.7,588.7L1048.2,585.5L1048.8,588.7L1049.3,585.5L1049.9,588.7L1050.4,588.7L1051.0,579.1L1051.5,585.5L1052.0,585.5L1052.6,582.3L1053.1,582.3L1053.7,582.3L1054.2,582.3L1054.7,579.1L1055.3,588.7L1055.8,582.3L1056.4,588.7L1056.9,582.3L1057.4,582.3L1058.0,582.3L1058.5,582.3L1059.1,579.1L1059.6,588.7L1060.1,585.5L1060.7,585.5L1061.2,585.5L1061.8,582.3L1062.3,582.3L1062.9,585.5L1063.4,588.7L1063.9,588.7L1064.5,582.3L1065.0,582.3L1065.6,582.3L1066.1,585.5L1066.6,582.3L1067.2,585.5L1067.7,582.3L1068.3,588.7L1068.8,585.5L1069.3,582.3L1069.9,582.3L1070.4,585.5L1071.0,585.5L1071.5,588.7L1072.1,588.7L1072.6,579.2L1073.1,588.7L1073.7,582.3L1074.2,588.7L1074.8,579.1L1075.3,585.4L1075.8,585.6L1076.4,582.3L1076.9,585.5L1077.5,588.7L1078.0,588.7L1078.5,585.5L1079.1,579.1L1079.6,585.5L1080.2,585.5L1080.7,585.5L1081.2,588.7L1081.8,579.2L1082.3,582.3L1082.9,585.5L1083.4,585.5L1084.0,579.2L1084.5,582.3L1085.0,585.5L1085.6,588.7L1086.1,579.1L1086.7,582.4L1087.2,582.3L1087.7,585.5L1088.3,585.5L1088.8,585.6L1089.4,582.4L1089.9,579.1L1090.4,588.7L1091.0,582.3L1091.5,582.3L1092.1,588.6L1092.6,588.7L1093.1,582.3L1093.7,582.5L1094.2,579.1L1094.8,582.2L1095.3,585.3L1095.9,579.3L1096.4,579.3L1096.9,585.4L1097.5,585.5L1098.0,575.8L1098.6,579.3L1099.1,582.6L1099.6,572.9L1100.2,582.2L1100.7,585.4L1101.3,582.7L1101.8,582.3L1102.3,572.9L1102.9,582.0L1103.4,569.1L1104.0,582.7L1104.5,576.3L1105.1,569.8L1105.6,563.3L1106.1,566.1L1106.7,575.7L1107.2,575.8L1107.8,582.2L1108.3,578.3L1108.8,578.9L1109.4,563.7L1109.9,579.1L1110.5,578.8L1111.0,558.7L1111.5,577.1L1112.1,561.2L1112.6,576.3L1113.2,564.2L1113.7,547.2L1114.2,567.1L1114.8,546.1L1115.3,557.3L1115.9,551.2L1116.4,566.4L1117.0,557.6L1117.5,563.8L1118.0,569.8L1118.6,546.9L1119.1,544.5L1119.7,563.6L1120.2,566.9L1120.7,554.6L1121.3,574.1L1121.8,572.5L1122.4,572.7L1122.9,559.7L1123.4,551.4L1124.0,563.5L1124.5,578.2L1125.1,565.7L1125.6,559.1L1126.2,576.5L1126.7,572.1L1127.2,570.2L1127.8,572.7L1128.3,559.2L1128.9,566.2L1129.4,569.4L1129.9,581.9L1130.5,578.4L1131.0,575.9L1131.6,573.0L1132.1,573.1L1132.6,575.4L1133.2,569.7L1133.7,575.6L1134.3,575.9L1134.8,582.4L1135.3,565.6L1135.9,572.1L1136.4,582.1L1137.0,576.6L1137.5,568.7L1138.1,566.4L1138.6,579.8L1139.1,553.5L1139.7,568.3L1140.2,546.7L1140.8,543.6L1141.3,535.9L1141.8,557.9L1142.4,536.8L1142.9,547.3L1143.5,523.5L1144.0,514.5L1144.5,527.6L1145.1,532.9L1145.6,544.0L1146.2,509.7L1146.7,550.3L1147.2,529.8L1147.8,527.9L1148.3,552.6L1148.9,562.9L1149.4,561.1L1150.0,555.0L1150.5,552.7L1151.0,572.3L1151.6,570.0L1152.1,572.4L1152.7,579.8L1153.2,582.8L1153.7,572.5L1154.3,581.8L1154.8,585.7L1155.4,582.1L1155.9,585.3L1156.4,585.2L1157.0,585.4L1157.5,579.0L1158.1,582.5L1158.6,582.6L1159.2,579.0L1159.7,582.4L1160.2,579.2L1160.8,579.0L1161.3,588.7L1161.9,579.0L1162.4,579.1L1162.9,579.0L1163.5,582.4L1164.0,582.2L1164.6,585.6L1165.1,585.5L1165.6,588.7L1166.2,588.7L1166.7,585.6L1167.3,585.6L1167.8,585.6L1168.3,588.7L1168.9,588.7L1169.4,579.0L1170.0,582.2L1170.5,585.5L1171.1,588.6L1171.6,585.6L1172.1,585.6L1172.7,588.7L1173.2,582.3L1173.8,585.5L1174.3,588.7L1174.8,579.2L1175.4,582.2L1175.9,582.4L1176.5,582.3L1177.0,585.4L1177.5,588.7L1178.1,579.1L1178.6,585.4L1179.2,588.7L1179.7,588.7L1180.3,585.5L1180.8,582.3L1181.3,579.2L1181.9,579.1L1182.4,582.3L1183.0,579.2L1183.5,582.3L1184.0,579.1L1184.6,579.1L1185.1,585.5L1185.7,585.5L1186.2,585.5L1186.7,585.5L1187.3,588.7L1187.8,582.3L1188.4,582.3L1188.9,588.7L1189.4,585.5L1190.0,585.5L1190.5,588.7L1191.1,588.7L1191.6,585.5L1192.2,585.5L1192.7,582.3L1193.2,582.3L1193.8,585.5L1194.3,585.5L1194.9,585.5L1195.4,582.3L1195.9,585.5L1196.5,582.3L1197.0,582.3L1197.6,585.5L1198.1,585.5L1198.6,585.5L1199.2,582.3L1199.7,588.7L1200.3,582.3L1200.8,582.3L1201.3,588.7L1201.9,588.7L1202.4,585.5L1203.0,588.7L1203.5,579.1L1204.1,585.5L1204.6,585.5L1205.1,588.7L1205.7,585.5L1206.2,582.3L1206.8,585.5L1207.3,575.9L1207.8,582.3L1208.4,582.3L1208.9,585.5L1209.5,585.5L1210.0,585.5L1210.5,579.1L1211.1,582.3L1211.6,588.7L1212.2,588.7L1212.7,582.3L1213.3,588.7L1213.8,585.5L1214.3,588.7L1214.9,588.7L1215.4,588.7L1216.0,579.1L1216.5,585.5L1217.0,585.5L1217.6,582.3L1218.1,582.3L1218.7,588.7L1219.2,588.7L1219.7,588.7L1220.3,588.7L1220.8,585.5L1221.4,588.7L1221.9,582.3L1222.4,588.7L1223.0,585.5L1223.5,585.5L1224.1,585.5L1224.6,582.3L1225.2,582.3L1225.7,585.5L1226.2,579.1L1226.8,582.3L1227.3,588.7L1227.9,585.5L1228.4,585.5L1228.9,585.5L1229.5,582.3L1230.0,588.7L1230.6,582.3L1231.1,579.1L1231.6,588.7L1232.2,582.3L1232.7,582.3L1233.3,585.5L1233.8,582.3L1234.4,588.7L1234.9,588.7L1235.4,582.3L1236.0,582.3L1236.5,582.3L1237.1,585.5L1237.6,585.5L1238.1,588.7L1238.7,582.3L1239.2,582.3L1239.8,582.3L1240.3,588.7L1240.8,585.5L1241.4,582.3L1241.9,582.3L1242.5,585.5L1243.0,582.3L1243.5,582.3L1244.1,585.5L1244.6,582.3L1245.2,585.5L1245.7,585.5L1246.3,585.5L1246.8,585.5L1247.3,585.5L1247.9,582.3L1248.4,585.5L1249.0,585.5L1249.5,588.7L1250.0,582.3L1250.6,585.5L1251.1,588.7L1251.7,585.5L1252.2,588.7L1252.7,582.3L1253.3,588.7L1253.8,588.7L1254.4,585.5L1254.9,588.7L1255.4,585.5L1256.0,588.7L1256.5,588.7L1257.1,585.5L1257.6,585.5L1258.2,588.7L1258.7,582.3L1259.2,582.3L1259.8,585.5L1260.3,585.5L1260.9,588.7L1261.4,582.3L1261.9,588.7L1262.5,588.7L1263.0,585.5L1263.6,585.5L1264.1,585.5L1264.6,582.3L1265.2,585.5L1265.7,582.3L1266.3,585.5L1266.8,585.5L1267.4,582.3L1267.9,582.3L1268.4,579.1L1269.0,588.7L1269.5,585.5L1270.1,588.7L1270.6,585.5L1271.1,582.3L1271.7,582.3L1272.2,588.7L1272.8,585.5L1273.3,588.7L1273.8,585.5L1274.4,585.5L1274.9,579.1L1275.5,582.3L1276.0,582.3L1276.5,588.7L1277.1,585.5L1277.6,585.5L1278.2,585.5L1278.7,588.7L1279.3,588.7L1279.8,582.3L1280.3,585.5L1280.9,585.5L1281.4,582.3L1282.0,588.7L1282.5,588.7L1283.0,585.5L1283.6,588.7L1284.1,588.7L1284.7,582.3L1285.2,588.7L1285.7,585.5L1286.3,585.5L1286.8,585.5L1287.4,588.7L1287.9,585.5L1288.5,582.3L1289.0,588.7L1289.5,585.5L1290.1,582.3L1290.6,588.7L1291.2,588.7L1291.7,588.7L1292.2,579.1L1292.8,588.7L1293.3,588.7L1293.9,582.3L1294.4,588.7L1294.9,588.7L1295.5,582.3L1296.0,579.1L1296.6,579.1L1297.1,582.3L1297.6,585.5L1298.2,582.3L1298.7,582.3L1299.3,579.1L1299.8,582.3L1300.4,582.3L1300.9,588.7L1301.4,582.3L1302.0,582.4L1302.5,588.6L1303.1,582.3L1303.6,585.6L1304.1,585.5L1304.7,582.3L1305.2,585.5L1305.8,582.4L1306.3,579.1L1306.8,582.2L1307.4,585.5L1307.9,582.3L1308.5,582.4L1309.0,579.1L1309.5,588.7L1310.1,582.3L1310.6,579.1L1311.2,576.0L1311.7,588.6L1312.3,588.7L1312.8,579.0L1313.3,585.6L1313.9,585.5L1314.4,582.3L1315.0,579.2L1315.5,579.0L1316.0,582.5L1316.6,582.5L1317.1,575.8L1317.7,582.3L1318.2,588.5L1318.7,579.3L1319.3,582.1L1319.8,588.5L1320.4,582.5L1320.9,582.5L1321.5,575.6L1322.0,575.9L1322.5,572.4L1323.1,572.5L1323.6,569.9L1324.2,575.8L1324.7,582.6L1325.2,578.9L1325.8,576.2L1326.3,569.0L1326.9,569.4L1327.4,572.4L1327.9,569.1L1328.5,582.9L1329.0,576.2L1329.6,575.3L1330.1,573.2L1330.6,582.0L1331.2,576.1L1331.7,566.3L1332.3,566.7L1332.8,565.9L1333.4,572.8L1333.9,578.3L1334.4,572.2L1335.0,559.7L1335.5,575.1L1336.1,575.3L1336.6,563.5L1337.1,569.4L1337.7,576.3L1338.2,569.4L1338.8,559.5L1339.3,562.0L1339.8,568.8L1340.4,575.3L1340.9,559.4L1341.5,565.7L1342.0,573.6L1342.6,579.3L1343.1,576.3L1343.6,577.1L1344.2,566.7L1344.7,570.7L1345.3,559.1L1345.8,564.1L1346.3,560.2L1346.9,567.1L1347.4,565.8L1348.0,557.7L1348.5,555.7L1349.0,579.2L1349.6,560.3L1350.1,576.0L1350.7,563.2L1351.2,565.5L1351.7,576.1L1352.3,563.2L1352.8,572.9L1353.4,560.9L1353.9,559.2L1354.5,569.5L1355.0,579.6L1355.5,563.3L1356.1,560.2L1356.6,575.1L1357.2,563.6L1357.7,566.0L1358.2,573.3L1358.8,578.8L1359.3,575.4L1359.9,576.4L1360.4,566.8L1360.9,570.2L1361.5,566.9L1362.0,563.3L1362.6,566.3L1363.1,569.1L1363.6,573.3L1364.2,572.1L1364.7,578.8L1365.3,576.1L1365.8,582.7L1366.4,581.9L1366.9,575.9L1367.4,582.6L1368.0,569.6L1368.5,579.1L1369.1,576.0L1369.6,582.0L1370.1,576.1L1370.7,572.4L1371.2,579.0L1371.8,582.4L1372.3,572.6L1372.8,572.7L1373.4,579.2L1373.9,585.7L1374.5,588.6L1375.0,585.6L1375.6,579.2L1376.1,582.3L1376.6,579.2L1377.2,582.2L1377.7,582.1L1378.3,582.4L1378.8,588.7L1379.3,582.4L1379.9,579.0L1380.4,582.2L1381.0,585.6L1381.5,585.5L1382.0,585.5L1382.6,585.6L1383.1,588.7L1383.7,579.1L1384.2,579.2L1384.7,585.6L1385.3,582.3L1385.8,588.7L1386.4,588.7L1386.9,585.4L1387.5,582.3L1388.0,588.7L1388.5,579.1L1389.1,588.6L1389.6,588.7L1390.2,579.1L1390.7,588.7L1391.2,588.6L1391.8,579.1L1392.3,588.7L1392.9,588.7L1393.4,585.5L1393.9,585.5L1394.5,585.5L1395.0,588.7L1395.6,585.5L1396.1,588.7L1396.7,585.5L1397.2,582.3L1397.7,582.3L1398.3,588.7L1398.8,585.5L1399.4,585.5L1399.9,579.1L1400.4,588.7L1401.0,582.3L1401.5,585.5L1402.1,585.5L1402.6,588.7L1403.1,585.5L1403.7,585.5L1404.2,585.5L1404.8,588.7L1405.3,582.3L1405.8,582.3L1406.4,582.3L1406.9,585.5L1407.5,585.5L1408.0,582.3L1408.6,588.7L1409.1,588.7L1409.6,585.5L1410.2,582.3L1410.7,588.7L1411.3,585.5L1411.8,588.7L1412.3,588.7L1412.9,582.3L1413.4,582.3L1414.0,582.3L1414.5,582.3L1415.0,582.3L1415.6,585.5L1416.1,588.7L1416.7,582.3L1417.2,588.7L1417.7,582.3L1418.3,579.1L1418.8,582.3L1419.4,582.3L1419.9,585.5L1420.5,585.5L1421.0,585.5L1421.5,582.3L1422.1,579.1L1422.6,588.7L1423.2,585.5L1423.7,585.5L1424.2,585.5L1424.8,588.7L1425.3,585.5L1425.9,582.3L1426.4,588.7L1426.9,588.7L1427.5,585.5L1428.0,585.5L1428.6,582.3L1429.1,582.3L1429.7,585.5L1430.2,582.3L1430.7,588.7L1431.3,582.3L1431.8,579.1L1432.4,585.5L1432.9,582.3L1433.4,588.7L1434.0,588.7L1434.5,582.3L1435.1,579.1L1435.6,585.5L1436.1,582.3L1436.7,585.5L1437.2,582.3L1437.8,588.7L1438.3,588.7L1438.8,582.3L1439.4,582.3L1439.9,582.3L1440.5,582.3L1441.0,588.7L1441.6,585.5L1442.1,585.5L1442.6,585.5L1443.2,585.5L1443.7,582.3L1444.3,588.7L1444.8,585.5L1445.3,588.7L1445.9,588.7L1446.4,582.3L1447.0,585.5L1447.5,588.7L1448.0,588.7L1448.6,585.5L1449.1,579.1L1449.7,582.3L1450.2,582.3L1450.8,582.3L1451.3,585.5L1451.8,588.7L1452.4,585.5L1452.9,579.1L1453.5,585.5L1454.0,582.3L1454.5,582.3L1455.1,582.3L1455.6,588.7L1456.2,585.5L1456.7,588.7L1457.2,585.5L1457.8,588.7L1458.3,582.3L1458.9,588.7L1459.4,588.7L1459.9,588.7L1460.5,582.3L1461.0,588.7L1461.6,588.7L1462.1,582.3L1462.7,585.5L1463.2,588.7L1463.7,582.3L1464.3,588.7L1464.8,582.3L1465.4,582.3L1465.9,582.3L1466.4,588.7L1467.0,585.5L1467.5,585.5L1468.1,588.7L1468.6,582.3L1469.1,585.5L1469.7,588.7L1470.2,585.5L1470.8,579.1L1471.3,579.1L1471.8,585.5L1472.4,588.7L1472.9,582.3L1473.5,585.5L1474.0,585.5L1474.6,582.3L1475.1,582.3L1475.6,585.5L1476.2,579.1L1476.7,582.3L1477.3,588.7L1477.8,582.3L1478.3,588.7L1478.9,588.7L1479.4,582.3L1480.0,585.5L1480.5,582.3L1481.0,588.7L1481.6,588.7L1482.1,585.5L1482.7,588.7L1483.2,585.5L1483.8,585.5L1484.3,585.5L1484.8,579.1L1485.4,588.7L1485.9,582.3L1486.5,582.3L1487.0,582.3L1487.5,588.6L1488.1,582.3L1488.6,579.1L1489.2,579.2L1489.7,582.3L1490.2,579.1L1490.8,579.2L1491.3,585.5L1491.9,582.3L1492.4,579.1L1492.9,588.7L1493.5,579.1L1494.0,585.5L1494.6,582.2L1495.1,582.4L1495.7,588.7L1496.2,588.7L1496.7,579.2L1497.3,579.0L1497.8,579.1L1498.4,582.2L1498.9,585.6L1499.4,579.2L1500.0,576.0L1500.5,579.1L1501.1,579.1L1501.6,588.6L1502.1,582.2L1502.7,579.1L1503.2,579.0L1503.8,579.0L1504.3,582.3L1504.9,588.6L1505.4,585.7L1505.9,575.9L1506.5,585.4L1507.0,588.5L1507.6,578.9L1508.1,576.0L1508.6,588.7L1509.2,588.7L1509.7,585.6L1510.3,582.1L1510.8,582.5L1511.3,588.6L1511.9,582.3L1512.4,579.0L1513.0,585.6L1513.5,582.3L1514.0,588.6L1514.6,575.9L1515.1,582.1L1515.7,579.2L1516.2,579.1L1516.8,578.9L1517.3,585.6L1517.8,578.8L1518.4,579.4L1518.9,585.2L1519.5,579.1L1520.0,582.5L1520.5,585.3L1521.1,579.2L1521.6,585.3L1522.2,572.9L1522.7,579.3L1523.2,582.3L1523.8,582.5L1524.3,588.6L1524.9,582.5L1525.4,576.0L1525.9,585.5L1526.5,582.3L1527.0,579.2L1527.6,582.3L1528.1,582.2L1528.7,582.4L1529.2,579.2L1529.7,579.2L1530.3,582.2L1530.8,576.0L1531.4,582.5L1531.9,578.9L1532.4,585.3L1533.0,588.5L1533.5,582.3L1534.1,585.7L1534.6,575.9L1535.1,575.9L1535.7,585.3L1536.2,578.9L1536.8,588.6L1537.3,582.5L1537.9,585.5L1538.4,588.6L1538.9,588.5L1539.5,575.9L1540.0,585.4L1540.6,575.9L1541.1,585.5L1541.6,579.3L1542.2,588.7L1542.7,579.0L1543.3,588.7L1543.8,579.0L1544.3,588.5L1544.9,579.1L1545.4,582.3L1546.0,572.8L1546.5,585.6L1547.0,585.4L1547.6,575.6L1548.1,572.5L1548.7,585.9L1549.2,579.3L1549.8,585.4L1550.3,578.7L1550.8,582.5L1551.4,565.7L1551.9,566.7L1552.5,562.6L1553.0,566.9L1553.5,579.3L1554.1,579.1L1554.6,569.9L1555.2,579.4L1555.7,578.0L1556.2,562.2L1556.8,558.9L1557.3,561.8L1557.9,560.4L1558.4,566.8L1559.0,566.4L1559.5,559.8L1560.0,561.0L1560.6,569.6L1561.1,560.0L1561.7,575.8L1562.2,560.3L1562.7,576.6L1563.3,559.8L1563.8,572.1L1564.4,575.6L1564.9,572.6L1565.4,562.6L1566.0,566.0L1566.5,585.4L1567.1,572.4L1567.6,572.3L1568.1,576.1L1568.7,585.7L1569.2,582.4L1569.8,582.3L1570.3,579.2L1570.9,585.7L1571.4,585.6L1571.9,576.0L1572.5,585.5L1573.0,588.7L1573.6,579.1L1574.1,582.3L1574.6,588.7L1575.2,582.3L1575.7,579.1L1576.3,588.7L1576.8,582.3L1577.3,585.6L1577.9,588.6L1578.4,588.7L1579.0,582.3L1579.5,585.5L1580.0,585.5L1580.6,588.7L1581.1,582.3L1581.7,579.1L1582.2,582.3L1582.8,585.5L1583.3,582.3L1583.8,582.3L1584.4,585.5L1584.9,588.7L1585.5,585.5L1586.0,588.7L1586.5,582.3L1587.1,585.5L1587.6,582.3L1588.2,582.3L1588.7,588.7L1589.2,588.7L1589.8,588.7L1590.3,579.1L1590.9,588.7L1591.4,582.3L1592.0,585.5L1592.5,585.5L1593.0,588.7L1593.6,585.5L1594.1,588.7L1594.7,579.1L1595.2,585.5L1595.7,588.7L1596.3,585.5L1596.8,585.5L1597.4,582.3L1597.9,582.3L1598.4,585.5L1599.0,582.3L1599.5,582.3L1600.1,585.5L1600.6,588.7L1601.1,588.7L1601.7,582.3L1602.2,588.7L1602.8,579.1L1603.3,585.5L1603.9,588.7L1604.4,585.5L1604.9,585.5L1605.5,585.5L1606.0,582.3L1606.6,582.3L1607.1,588.7L1607.6,579.1L1608.2,579.1L1608.7,588.7L1609.3,585.5L1609.8,585.5L1610.3,588.7L1610.9,582.3L1611.4,585.5L1612.0,585.5L1612.5,585.5L1613.1,585.5L1613.6,588.7L1614.1,588.7L1614.7,579.1L1615.2,588.7L1615.8,588.7L1616.3,585.5L1616.8,585.5L1617.4,582.3L1617.9,588.7L1618.5,582.3L1619.0,585.5L1619.5,582.3L1620.1,588.7L1620.6,588.7L1621.2,582.3L1621.7,585.5L1622.2,582.3L1622.8,582.3L1623.3,585.5L1623.9,588.7L1624.4,582.3L1625.0,588.7L1625.5,588.7L1626.0,582.3L1626.6,582.3L1627.1,588.7L1627.7,588.7L1628.2,588.7L1628.7,582.3L1629.3,588.7L1629.8,585.5L1630.4,582.3L1630.9,582.3L1631.4,585.5L1632.0,588.7L1632.5,579.1L1633.1,582.3L1633.6,585.5L1634.1,588.7L1634.7,585.5L1635.2,585.5L1635.8,585.5L1636.3,585.5L1636.9,585.5L1637.4,579.1L1637.9,582.3L1638.5,585.5L1639.0,582.3L1639.6,582.3L1640.1,585.5L1640.6,582.3L1641.2,588.7L1641.7,582.3L1642.3,575.9L1642.8,585.5L1643.3,585.5L1643.9,585.5L1644.4,572.7L1645.0,582.3L1645.5,588.7L1646.1,582.3L1646.6,582.3L1647.1,585.5L1647.7,579.1L1648.2,585.5L1648.8,585.5L1649.3,582.3L1649.8,588.7L1650.4,585.5L1650.9,585.5L1651.5,579.1L1652.0,585.5L1652.5,585.5L1653.1,585.5L1653.6,588.7L1654.2,588.7L1654.7,579.1L1655.2,588.7L1655.8,585.5L1656.3,585.4L1656.9,588.7L1657.4,579.1L1658.0,582.3L1658.5,579.1L1659.0,585.5L1659.6,579.1L1660.1,585.5L1660.7,585.5L1661.2,585.6L1661.7,582.3L1662.3,582.3L1662.8,579.1L1663.4,585.6L1663.9,579.1L1664.4,585.4L1665.0,588.6L1665.5,582.4L1666.1,585.5L1666.6,582.4L1667.2,588.7L1667.7,579.1L1668.2,579.0L1668.8,588.7L1669.3,579.1L1669.9,579.0L1670.4,579.0L1670.9,582.3L1671.5,578.9L1672.0,575.7L1672.6,575.7L1673.1,585.4L1673.6,588.4L1674.2,575.9L1674.7,585.3L1675.3,578.8L1675.8,579.4L1676.3,578.9L1676.9,569.9L1677.4,585.1L1678.0,572.4L1678.5,568.9L1679.1,573.1L1679.6,565.9L1680.1,572.7L1680.7,582.1L1681.2,581.4L1681.8,579.7L1682.3,579.2L1682.8,560.4L1683.4,578.1L1683.9,551.3L1684.5,573.7L1685.0,562.0L1685.5,566.0L1686.1,564.2L1686.6,577.1L1687.2,563.2L1687.7,557.7L1688.2,566.6L1688.8,568.3L1689.3,566.4L1689.9,576.4L1690.4,578.5L1691.0,559.8L1691.5,571.9L1692.0,559.5L1692.6,560.1L1693.1,576.7L1693.7,581.5L1694.2,565.8L1694.7,573.0L1695.3,582.7L1695.8,569.6L1696.4,579.6L1696.9,569.9L1697.4,565.7L1698.0,566.8L1698.5,566.3L1699.1,585.1L1699.6,569.1L1700.2,573.3L1700.7,569.6L1701.2,572.5L1701.8,565.8L1702.3,585.2L1702.9,570.0L1703.4,566.5L1703.9,575.7L1704.5,566.8L1705.0,565.7L1705.6,565.8L1706.1,569.2L1706.6,566.1L1707.2,582.1L1707.7,575.6L1708.3,572.9L1708.8,578.8L1709.3,575.7L1709.9,582.4L1710.4,582.4L1711.0,566.8L1711.5,585.5L1712.1,572.9L1712.6,572.7L1713.1,573.0L1713.7,572.4L1714.2,582.1L1714.8,569.5L1715.3,575.7L1715.8,572.3L1716.4,572.6L1716.9,572.8L1717.5,582.1L1718.0,581.9L1718.5,579.3L1719.1,579.0L1719.6,579.3L1720.2,585.5L1720.7,582.5L1721.3,585.6L1721.8,572.9L1722.3,588.6L1722.9,585.5L1723.4,579.0L1724.0,575.7L1724.5,588.7L1725.0,579.3L1725.6,579.2L1726.1,585.4L1726.7,582.4L1727.2,588.5L1727.7,576.0L1728.3,582.4L1728.8,579.0L1729.4,585.5L1729.9,585.4L1730.4,582.3L1731.0,582.3L1731.5,585.6L1732.1,585.5L1732.6,588.7L1733.2,579.1L1733.7,582.3L1734.2,588.7L1734.8,582.3L1735.3,582.3L1735.9,585.6L1736.4,582.4L1736.9,582.4L1737.5,582.3L1738.0,582.3L1738.6,582.3L1739.1,585.5L1739.6,588.7L1740.2,585.5L1740.7,588.6L1741.3,588.7L1741.8,588.7L1742.3,588.7L1742.9,585.5L1743.4,582.3L1744.0,585.5L1744.5,582.3L1745.1,588.7L1745.6,582.3L1746.1,588.7L1746.7,588.7L1747.2,585.5L1747.8,588.7L1748.3,588.7L1748.8,585.5L1749.4,588.7L1749.9,588.7L1750.5,588.7L1751.0,588.7L1751.5,588.7L1752.1,585.5L1752.6,585.5L1753.2,585.5L1753.7,585.5L1754.3,588.7L1754.8,588.7L1755.3,585.5L1755.9,582.3L1756.4,582.3L1757.0,585.5L1757.5,585.5L1758.0,588.7L1758.6,588.7L1759.1,588.7L1759.7,588.7L1760.2,585.5L1760.7,582.3L1761.3,585.5L1761.8,585.5L1762.4,585.5L1762.9,585.5L1763.4,588.7L1764.0,582.3L1764.5,588.7L1765.1,582.3L1765.6,585.5L1766.2,585.5L1766.7,585.5L1767.2,585.5L1767.8,588.7L1768.3,588.7L1768.9,588.7L1769.4,585.5L1769.9,585.5L1770.5,588.7L1771.0,588.7L1771.6,588.7L1772.1,582.3L1772.6,585.5L1773.2,585.5L1773.7,582.3L1774.3,585.5L1774.8,582.3L1775.4,588.7L1775.9,588.7L1776.4,588.7L1777.0,588.7L1777.5,585.5L1778.1,582.3L1778.6,588.7L1779.1,585.5L1779.7,585.5L1780.2,588.7L1780.8,588.7L1781.3,585.5L1781.8,585.5L1782.4,588.7L1782.9,588.7L1783.5,585.5L1784.0,588.7L1784.5,588.7L1785.1,588.7L1785.6,588.7L1786.2,585.5L1786.7,588.7L1787.3,588.7L1787.8,588.7L1788.3,588.7L1788.9,588.7L1789.4,582.3L1790.0,585.5L1790.5,585.5L1791.0,585.5L1791.6,585.5L1792.1,582.3L1792.7,588.7L1793.2,585.5L1793.7,585.5L1794.3,585.5L1794.8,585.5L1795.4,588.7L1795.9,585.5L1796.4,585.5L1797.0,588.7L1797.5,585.5L1798.1,588.7L1798.6,585.5L1799.2,585.5L1799.7,585.5L1800.2,588.7L1800.8,585.5L1801.3,585.5L1801.9,588.7L1802.4,588.7L1802.9,588.7L1803.5,588.7L1804.0,585.5L1804.6,585.5L1805.1,585.5L1805.6,585.5L1806.2,585.5L1806.7,585.5L1807.3,585.5L1807.8,588.7L1808.4,582.3L1808.9,585.5L1809.4,585.5L1810.0,588.7L1810.5,585.5L1811.1,588.7L1811.6,585.5L1812.1,588.7L1812.7,588.7L1813.2,588.7L1813.8,585.5L1814.3,588.7L1814.8,588.7L1815.4,585.5L1815.9,585.5L1816.5,588.7L1817.0,585.5L1817.5,585.5L1818.1,588.7L1818.6,588.7L1819.2,585.5L1819.7,588.7L1820.3,585.5L1820.8,585.5L1821.3,588.7L1821.9,588.7L1822.4,588.7L1823.0,585.5L1823.5,585.5" fill="none" stroke="#0000ff" stroke-width="10.3" stroke-linejoin="round" stroke-linecap="round"/>
<path d="M200.5,309.1L201.0,313.6L201.6,314.7L202.1,308.0L202.7,309.2L203.2,318.3L203.7,308.7L204.3,309.6L204.8,319.2L205.4,315.8L205.9,312.4L206.5,313.6L207.0,314.7L207.5,310.7L208.1,308.3L208.6,316.1L209.2,315.0L209.7,312.6L210.2,316.4L210.8,313.2L211.3,318.4L211.9,309.4L212.4,313.5L212.9,312.7L213.5,311.2L214.0,314.2L214.6,310.5L215.1,317.0L215.6,317.4L216.2,308.8L216.7,312.7L217.3,310.0L217.8,308.5L218.4,318.2L218.9,313.8L219.4,310.3L220.0,316.9L220.5,311.7L221.1,319.6L221.6,312.6L222.1,310.8L222.7,313.1L223.2,315.1L223.8,317.2L224.3,321.8L224.8,318.9L225.4,315.1L225.9,311.4L226.5,312.8L227.0,322.1L227.5,316.5L228.1,319.5L228.6,312.0L229.2,311.9L229.7,320.8L230.3,317.6L230.8,314.4L231.3,314.7L231.9,312.3L232.4,313.8L233.0,312.4L233.5,321.6L234.0,317.3L234.6,313.0L235.1,319.6L235.7,313.3L236.2,312.1L236.7,318.4L237.3,321.6L237.8,312.7L238.4,321.3L238.9,314.4L239.5,313.1L240.0,312.0L240.5,315.1L241.1,319.4L241.6,316.8L242.2,321.1L242.7,313.7L243.2,314.6L243.8,313.6L244.3,320.9L244.9,320.1L245.4,312.8L245.9,313.8L246.5,312.9L247.0,317.4L247.6,309.3L248.1,309.5L248.6,313.3L249.2,311.8L249.7,317.4L250.3,316.5L250.8,314.4L251.4,315.7L251.9,316.1L252.4,317.2L253.0,319.1L253.5,310.7L254.1,316.2L254.6,310.9L255.1,314.2L255.7,318.0L256.2,319.5L256.8,318.3L257.3,310.7L257.8,314.3L258.4,312.0L258.9,321.3L259.5,312.0L260.0,313.1L260.6,314.4L261.1,311.0L261.6,320.4L262.2,317.4L262.7,312.1L263.3,315.7L263.8,311.2L264.3,317.6L264.9,313.8L265.4,312.1L266.0,312.8L266.5,317.7L267.0,318.6L267.6,315.5L268.1,318.8L268.7,315.4L269.2,313.3L269.7,315.3L270.3,316.0L270.8,321.8L271.4,313.3L271.9,313.2L272.5,318.5L273.0,322.9L273.5,322.3L274.1,320.8L274.6,314.3L275.2,322.6L275.7,320.8L276.2,314.5L276.8,318.1L277.3,313.5L277.9,322.4L278.4,321.5L278.9,322.9L279.5,322.3L280.0,317.2L280.6,322.8L281.1,316.6L281.6,315.8L282.2,318.9L282.7,320.5L283.3,318.2L283.8,321.7L284.4,321.8L284.9,317.5L285.4,321.4L286.0,318.4L286.5,322.3L287.1,317.1L287.6,322.7L288.1,318.5L288.7,319.8L289.2,321.3L289.8,319.0L290.3,316.8L290.8,324.4L291.4,314.9L291.9,317.7L292.5,320.4L293.0,315.5L293.6,317.0L294.1,324.1L294.6,323.9L295.2,321.9L295.7,324.4L296.3,322.8L296.8,318.3L297.3,322.4L297.9,318.7L298.4,323.3L299.0,320.2L299.5,317.9L300.0,326.1L300.6,324.2L301.1,324.4L301.7,322.5L302.2,324.1L302.7,320.4L303.3,321.7L303.8,315.2L304.4,320.3L304.9,322.6L305.5,320.8L306.0,321.3L306.5,317.5L307.1,322.2L307.6,313.5L308.2,321.9L308.7,316.2L309.2,312.9L309.8,318.5L310.3,316.0L310.9,315.0L311.4,319.2L311.9,311.3L312.5,316.2L313.0,313.3L313.6,314.5L314.1,314.0L314.7,309.0L315.2,313.1L315.7,317.0L316.3,308.7L316.8,306.2L317.4,306.4L317.9,310.8L318.4,316.4L319.0,304.9L319.5,315.6L320.1,309.8L320.6,304.5L321.1,307.5L321.7,304.6L322.2,310.7L322.8,308.2L323.3,305.3L323.8,303.6L324.4,310.8L324.9,309.4L325.5,305.0L326.0,304.5L326.6,308.8L327.1,311.3L327.6,300.3L328.2,300.5L328.7,302.8L329.3,303.6L329.8,296.9L330.3,295.8L330.9,297.2L331.4,298.9L332.0,302.7L332.5,300.1L333.0,291.0L333.6,290.0L334.1,293.7L334.7,297.7L335.2,295.9L335.7,285.9L336.3,289.9L336.8,286.9L337.4,274.9L337.9,275.8L338.5,264.9L339.0,256.0L339.5,257.3L340.1,243.1L340.6,247.0L341.2,244.4L341.7,240.1L342.2,223.8L342.8,209.3L343.3,215.4L343.9,206.3L344.4,198.6L344.9,184.1L345.5,176.5L346.0,162.7L346.6,151.8L347.1,147.1L347.7,148.9L348.2,138.9L348.7,142.8L349.3,138.7L349.8,137.7L350.4,148.1L350.9,136.7L351.4,146.8L352.0,147.0L352.5,167.0L353.1,165.5L353.6,170.3L354.1,176.1L354.7,191.9L355.2,196.4L355.8,199.6L356.3,206.5L356.8,219.5L357.4,231.0L357.9,237.8L358.5,252.6L359.0,259.1L359.6,265.7L360.1,268.3L360.6,268.6L361.2,273.8L361.7,276.1L362.3,280.5L362.8,279.2L363.3,293.1L363.9,288.3L364.4,288.1L365.0,296.0L365.5,301.0L366.0,298.7L366.6,299.3L367.1,304.3L367.7,298.9L368.2,298.0L368.8,306.2L369.3,306.1L369.8,310.3L370.4,303.9L370.9,308.5L371.5,298.6L372.0,299.0L372.5,306.4L373.1,301.9L373.6,300.0L374.2,300.9L374.7,303.6L375.2,302.8L375.8,305.5L376.3,309.9L376.9,303.6L377.4,302.5L377.9,308.2L378.5,302.6L379.0,307.2L379.6,307.4L380.1,309.0L380.7,306.1L381.2,312.2L381.7,314.4L382.3,317.1L382.8,320.4L383.4,315.2L383.9,319.1L384.4,317.4L385.0,315.7L385.5,323.6L386.1,323.2L386.6,326.2L387.1,325.8L387.7,327.5L388.2,319.0L388.8,318.5L389.3,320.5L389.8,322.8L390.4,325.9L390.9,324.1L391.5,325.2L392.0,327.9L392.6,321.5L393.1,328.5L393.6,321.8L394.2,324.2L394.7,328.8L395.3,328.3L395.8,325.6L396.3,324.3L396.9,329.6L397.4,324.6L398.0,322.0L398.5,324.1L399.0,321.5L399.6,329.3L400.1,323.5L400.7,332.0L401.2,325.4L401.8,326.5L402.3,329.4L402.8,326.7L403.4,327.5L403.9,325.0L404.5,328.1L405.0,324.8L405.5,326.8L406.1,333.0L406.6,327.9L407.2,327.7L407.7,331.7L408.2,334.3L408.8,329.2L409.3,329.8L409.9,333.4L410.4,334.5L410.9,333.6L411.5,329.5L412.0,329.8L412.6,335.2L413.1,334.7L413.7,336.4L414.2,335.3L414.7,332.1L415.3,329.5L415.8,336.2L416.4,334.2L416.9,332.5L417.4,332.6L418.0,327.7L418.5,324.3L419.1,324.2L419.6,319.3L420.1,317.5L420.7,316.5L421.2,313.5L421.8,307.2L422.3,308.7L422.9,318.3L423.4,316.7L423.9,324.8L424.5,321.1L425.0,326.8L425.6,328.9L426.1,333.0L426.6,334.4L427.2,328.3L427.7,332.9L428.3,332.9L428.8,328.7L429.3,334.9L429.9,332.9L430.4,337.0L431.0,330.0L431.5,333.3L432.0,331.2L432.6,334.4L433.1,334.1L433.7,333.7L434.2,332.3L434.8,334.1L435.3,332.7L435.8,337.2L436.4,333.4L436.9,333.7L437.5,332.3L438.0,332.0L438.5,338.0L439.1,332.4L439.6,337.4L440.2,335.2L440.7,338.7L441.2,331.9L441.8,338.9L442.3,337.8L442.9,335.9L443.4,337.1L443.9,337.9L444.5,335.0L445.0,336.8L445.6,333.4L446.1,332.0L446.7,337.6L447.2,336.2L447.7,339.5L448.3,334.0L448.8,338.9L449.4,340.1L449.9,339.0L450.4,339.4L451.0,332.3L451.5,332.4L452.1,332.8L452.6,333.6L453.1,331.6L453.7,331.9L454.2,330.5L454.8,338.4L455.3,333.5L455.9,335.5L456.4,333.9L456.9,336.0L457.5,336.4L458.0,332.5L458.6,334.3L459.1,330.4L459.6,332.1L460.2,332.1L460.7,332.6L461.3,332.6L461.8,335.3L462.3,333.3L462.9,333.6L463.4,337.9L464.0,330.9L464.5,331.4L465.0,331.6L465.6,338.5L466.1,336.4L466.7,337.2L467.2,338.6L467.8,332.4L468.3,338.7L468.8,333.2L469.4,335.5L469.9,336.7L470.5,337.4L471.0,333.0L471.5,335.2L472.1,331.0L472.6,333.1L473.2,339.4L473.7,338.8L474.2,336.8L474.8,338.5L475.3,339.6L475.9,334.8L476.4,340.3L477.0,335.7L477.5,333.3L478.0,336.5L478.6,336.8L479.1,337.7L479.7,337.8L480.2,332.6L480.7,338.0L481.3,340.7L481.8,338.2L482.4,341.0L482.9,336.9L483.4,339.3L484.0,333.8L484.5,339.9L485.1,335.5L485.6,339.5L486.1,334.5L486.7,336.9L487.2,338.4L487.8,337.6L488.3,336.7L488.9,340.0L489.4,332.3L489.9,332.5L490.5,336.4L491.0,339.7L491.6,337.4L492.1,334.2L492.6,332.2L493.2,334.8L493.7,335.8L494.3,336.1L494.8,337.6L495.3,335.0L495.9,339.9L496.4,335.2L497.0,334.0L497.5,336.1L498.0,340.9L498.6,334.4L499.1,335.5L499.7,340.6L500.2,336.1L500.8,340.3L501.3,334.0L501.8,341.1L502.4,336.2L502.9,336.0L503.5,340.3L504.0,342.1L504.5,342.1L505.1,340.7L505.6,342.1L506.2,342.3L506.7,339.0L507.2,335.3L507.8,341.6L508.3,337.7L508.9,336.9L509.4,338.0L510.0,334.2L510.5,334.2L511.0,336.4L511.6,339.1L512.1,339.8L512.7,341.5L513.2,340.6L513.7,341.7L514.3,339.1L514.8,340.0L515.4,338.7L515.9,334.9L516.4,334.7L517.0,340.4L517.5,335.6L518.1,340.5L518.6,337.4L519.1,333.8L519.7,337.6L520.2,336.2L520.8,332.4L521.3,333.1L521.9,331.9L522.4,330.4L522.9,331.6L523.5,324.9L524.0,327.0L524.6,328.1L525.1,332.2L525.6,325.9L526.2,327.9L526.7,331.1L527.3,333.2L527.8,334.1L528.3,333.8L528.9,335.2L529.4,335.8L530.0,337.9L530.5,339.3L531.1,336.9L531.6,335.6L532.1,335.2L532.7,336.2L533.2,335.2L533.8,337.6L534.3,340.8L534.8,339.9L535.4,336.3L535.9,334.9L536.5,335.3L537.0,338.4L537.5,338.0L538.1,340.6L538.6,335.6L539.2,337.2L539.7,340.5L540.2,339.7L540.8,339.2L541.3,342.6L541.9,336.2L542.4,337.0L543.0,340.0L543.5,340.3L544.0,343.7L544.6,343.9L545.1,341.4L545.7,342.8L546.2,342.6L546.7,338.4L547.3,341.6L547.8,339.4L548.4,340.1L548.9,338.4L549.4,337.3L550.0,343.9L550.5,343.3L551.1,343.8L551.6,340.5L552.1,342.0L552.7,340.4L553.2,343.5L553.8,345.8L554.3,345.4L554.9,346.6L555.4,341.6L555.9,345.0L556.5,341.1L557.0,343.9L557.6,340.8L558.1,343.7L558.6,343.4L559.2,341.9L559.7,341.8L560.3,344.5L560.8,343.3L561.3,342.7L561.9,340.3L562.4,341.4L563.0,345.6L563.5,346.4L564.1,341.7L564.6,345.6L565.1,345.4L565.7,340.4L566.2,341.1L566.8,343.9L567.3,340.7L567.8,345.6L568.4,340.9L568.9,343.7L569.5,343.4L570.0,339.5L570.5,344.2L571.1,340.3L571.6,338.6L572.2,338.3L572.7,341.0L573.2,342.3L573.8,339.5L574.3,343.8L574.9,339.4L575.4,343.6L576.0,337.6L576.5,338.7L577.0,338.4L577.6,340.7L578.1,340.2L578.7,341.1L579.2,344.8L579.7,342.8L580.3,343.0L580.8,341.6L581.4,344.7L581.9,342.9L582.4,344.9L583.0,345.9L583.5,344.1L584.1,343.0L584.6,341.9L585.2,346.7L585.7,346.2L586.2,346.6L586.8,342.2L587.3,343.7L587.9,347.2L588.4,343.1L588.9,346.9L589.5,345.0L590.0,342.4L590.6,343.7L591.1,341.5L591.6,345.6L592.2,346.1L592.7,340.9L593.3,343.0L593.8,346.3L594.3,342.3L594.9,345.2L595.4,346.8L596.0,345.0L596.5,341.8L597.1,347.3L597.6,346.1L598.1,344.7L598.7,343.6L599.2,345.5L599.8,343.9L600.3,342.1L600.8,342.1L601.4,341.2L601.9,342.0L602.5,342.3L603.0,344.9L603.5,344.2L604.1,344.1L604.6,346.0L605.2,341.1L605.7,343.1L606.2,340.8L606.8,343.1L607.3,341.0L607.9,340.7L608.4,341.2L609.0,343.2L609.5,345.9L610.0,342.7L610.6,345.6L611.1,342.0L611.7,342.6L612.2,344.0L612.7,341.2L613.3,343.9L613.8,345.0L614.4,346.8L614.9,341.2L615.4,346.7L616.0,345.3L616.5,345.1L617.1,341.3L617.6,347.5L618.2,343.2L618.7,344.6L619.2,344.5L619.8,347.5L620.3,345.2L620.9,348.2L621.4,342.3L621.9,345.3L622.5,344.9L623.0,344.7L623.6,345.3L624.1,344.5L624.6,343.2L625.2,345.6L625.7,341.5L626.3,344.2L626.8,343.9L627.3,342.3L627.9,344.7L628.4,345.6L629.0,341.7L629.5,342.8L630.1,341.0L630.6,345.3L631.1,341.3L631.7,342.2L632.2,343.5L632.8,343.3L633.3,340.2L633.8,346.8L634.4,341.4L634.9,343.8L635.5,340.8L636.0,343.5L636.5,341.1L637.1,340.4L637.6,341.6L638.2,342.2L638.7,342.2L639.3,342.8L639.8,339.2L640.3,337.5L640.9,338.3L641.4,338.6L642.0,340.7L642.5,338.9L643.0,337.8L643.6,335.8L644.1,339.3L644.7,335.1L645.2,338.1L645.7,339.2L646.3,338.3L646.8,335.0L647.4,336.5L647.9,341.0L648.4,334.2L649.0,338.9L649.5,336.6L650.1,338.1L650.6,336.3L651.2,333.7L651.7,337.5L652.2,333.2L652.8,340.3L653.3,339.4L653.9,335.6L654.4,337.2L654.9,337.2L655.5,341.2L656.0,333.1L656.6,335.2L657.1,336.4L657.6,339.6L658.2,339.4L658.7,336.4L659.3,332.2L659.8,338.0L660.3,335.7L660.9,332.6L661.4,337.0L662.0,335.3L662.5,333.9L663.1,333.3L663.6,335.1L664.1,332.3L664.7,333.3L665.2,338.2L665.8,334.0L666.3,331.8L666.8,334.1L667.4,337.3L667.9,336.7L668.5,334.9L669.0,336.8L669.5,335.6L670.1,334.7L670.6,332.1L671.2,330.0L671.7,334.5L672.3,333.6L672.8,336.7L673.3,330.8L673.9,335.5L674.4,329.4L675.0,335.6L675.5,335.8L676.0,326.9L676.6,328.7L677.1,334.0L677.7,332.9L678.2,329.7L678.7,323.7L679.3,321.7L679.8,323.4L680.4,329.1L680.9,326.3L681.4,320.5L682.0,322.6L682.5,322.9L683.1,314.7L683.6,320.0L684.2,311.8L684.7,310.9L685.2,306.0L685.8,306.1L686.3,309.2L686.9,301.5L687.4,306.9L687.9,301.6L688.5,308.8L689.0,300.9L689.6,302.1L690.1,302.7L690.6,306.3L691.2,309.1L691.7,308.3L692.3,309.4L692.8,309.8L693.4,310.0L693.9,309.4L694.4,308.8L695.0,318.1L695.5,314.3L696.1,317.7L696.6,312.7L697.1,317.2L697.7,315.8L698.2,319.8L698.8,324.9L699.3,322.3L699.8,326.6L700.4,321.9L700.9,325.3L701.5,326.2L702.0,328.1L702.5,327.0L703.1,331.9L703.6,334.9L704.2,334.9L704.7,328.6L705.3,333.3L705.8,331.9L706.3,334.6L706.9,330.6L707.4,336.6L708.0,334.7L708.5,340.1L709.0,333.2L709.6,337.0L710.1,338.3L710.7,341.6L711.2,341.6L711.7,337.7L712.3,339.5L712.8,343.3L713.4,341.3L713.9,340.3L714.4,345.8L715.0,345.5L715.5,342.1L716.1,344.2L716.6,347.4L717.2,342.7L717.7,348.3L718.2,348.4L718.8,348.0L719.3,348.2L719.9,348.7L720.4,347.7L720.9,347.7L721.5,345.5L722.0,348.1L722.6,349.0L723.1,347.9L723.6,349.1L724.2,347.5L724.7,349.9L725.3,349.6L725.8,345.8L726.4,350.2L726.9,347.6L727.4,346.5L728.0,346.7L728.5,348.0L729.1,349.0L729.6,348.0L730.1,347.3L730.7,351.0L731.2,348.6L731.8,351.6L732.3,348.1L732.8,351.0L733.4,349.1L733.9,352.0L734.5,350.8L735.0,350.9L735.5,347.6L736.1,351.8L736.6,349.3L737.2,351.4L737.7,352.1L738.3,348.0L738.8,347.5L739.3,351.9L739.9,353.1L740.4,352.7L741.0,349.9L741.5,352.4L742.0,347.7L742.6,347.7L743.1,350.6L743.7,350.6L744.2,352.3L744.7,348.9L745.3,350.1L745.8,353.4L746.4,349.5L746.9,350.1L747.5,351.4L748.0,353.6L748.5,349.0L749.1,352.5L749.6,351.0L750.2,350.9L750.7,349.9L751.2,351.2L751.8,351.6L752.3,350.7L752.9,351.6L753.4,352.1L753.9,353.4L754.5,351.7L755.0,350.8L755.6,353.7L756.1,349.3L756.6,348.5L757.2,353.2L757.7,349.6L758.3,349.0L758.8,350.4L759.4,350.2L759.9,350.2L760.4,353.3L761.0,350.0L761.5,348.9L762.1,349.5L762.6,353.5L763.1,350.7L763.7,350.5L764.2,352.9L764.8,353.6L765.3,351.1L765.8,352.7L766.4,349.7L766.9,350.2L767.5,351.7L768.0,349.8L768.5,350.0L769.1,349.6L769.6,350.0L770.2,353.2L770.7,353.2L771.3,349.3L771.8,350.9L772.3,352.6L772.9,353.4L773.4,351.7L774.0,352.5L774.5,349.9L775.0,352.7L775.6,352.8L776.1,350.7L776.7,349.9L777.2,349.0L777.7,352.3L778.3,352.4L778.8,348.9L779.4,351.8L779.9,353.9L780.5,348.9L781.0,349.6L781.5,348.9L782.1,350.8L782.6,349.9L783.2,352.6L783.7,347.2L784.2,347.6L784.8,351.6L785.3,345.7L785.9,346.5L786.4,346.8L786.9,344.0L787.5,345.1L788.0,346.9L788.6,347.2L789.1,346.9L789.6,347.4L790.2,347.5L790.7,344.1L791.3,348.2L791.8,348.4L792.4,346.6L792.9,348.3L793.4,347.8L794.0,351.9L794.5,348.7L795.1,348.3L795.6,352.2L796.1,352.2L796.7,352.7L797.2,351.7L797.8,350.5L798.3,351.2L798.8,351.5L799.4,352.3L799.9,354.0L800.5,350.1L801.0,352.8L801.6,348.7L802.1,349.4L802.6,353.5L803.2,350.1L803.7,351.5L804.3,353.6L804.8,352.3L805.3,351.5L805.9,352.8L806.4,354.6L807.0,354.4L807.5,350.4L808.0,350.1L808.6,351.0L809.1,350.3L809.7,353.4L810.2,353.5L810.7,349.8L811.3,349.0L811.8,350.5L812.4,352.7L812.9,353.2L813.5,351.4L814.0,352.8L814.5,354.2L815.1,353.9L815.6,349.5L816.2,352.6L816.7,353.1L817.2,353.8L817.8,350.9L818.3,349.5L818.9,351.3L819.4,350.6L819.9,350.8L820.5,352.8L821.0,352.2L821.6,352.4L822.1,352.3L822.6,349.7L823.2,349.7L823.7,351.2L824.3,353.8L824.8,353.0L825.4,353.6L825.9,352.7L826.4,353.3L827.0,354.7L827.5,353.3L828.1,354.1L828.6,354.6L829.1,353.4L829.7,353.9L830.2,349.9L830.8,349.7L831.3,354.5L831.8,350.7L832.4,351.2L832.9,350.1L833.5,352.9L834.0,349.6L834.6,353.6L835.1,350.4L835.6,353.0L836.2,353.5L836.7,352.3L837.3,350.9L837.8,351.7L838.3,353.2L838.9,352.4L839.4,350.1L840.0,349.0L840.5,353.9L841.0,352.4L841.6,349.4L842.1,352.4L842.7,352.5L843.2,351.0L843.7,354.5L844.3,350.7L844.8,350.1L845.4,351.1L845.9,351.2L846.5,354.1L847.0,353.2L847.5,350.3L848.1,351.9L848.6,350.1L849.2,353.4L849.7,354.2L850.2,350.0L850.8,352.2L851.3,350.7L851.9,351.2L852.4,353.5L852.9,354.8L853.5,351.2L854.0,352.3L854.6,351.1L855.1,349.6L855.7,352.3L856.2,350.1L856.7,353.3L857.3,353.6L857.8,350.4L858.4,352.9L858.9,350.7L859.4,353.9L860.0,351.2L860.5,353.5L861.1,353.4L861.6,353.1L862.1,351.3L862.7,354.6L863.2,351.9L863.8,353.9L864.3,352.3L864.8,352.1L865.4,353.2L865.9,351.3L866.5,353.7L867.0,352.3L867.6,353.9L868.1,353.6L868.6,355.1L869.2,352.0L869.7,351.8L870.3,355.2L870.8,352.6L871.3,352.0L871.9,353.7L872.4,351.3L873.0,355.1L873.5,353.9L874.0,353.4L874.6,351.4L875.1,354.4L875.7,354.9L876.2,354.0L876.7,354.3L877.3,349.7L877.8,353.4L878.4,354.0L878.9,351.8L879.5,349.6L880.0,352.1L880.5,350.0L881.1,348.8L881.6,353.7L882.2,353.1L882.7,351.7L883.2,352.5L883.8,351.9L884.3,350.9L884.9,348.8L885.4,349.7L885.9,350.8L886.5,351.2L887.0,349.5L887.6,348.7L888.1,349.9L888.7,349.5L889.2,353.8L889.7,349.6L890.3,350.3L890.8,350.8L891.4,349.3L891.9,350.8L892.4,351.3L893.0,348.5L893.5,353.8L894.1,351.7L894.6,349.4L895.1,354.0L895.7,349.4L896.2,352.5L896.8,351.1L897.3,349.8L897.8,350.4L898.4,350.9L898.9,350.5L899.5,349.9L900.0,351.1L900.6,351.2L901.1,352.4L901.6,350.1L902.2,349.5L902.7,354.1L903.3,349.7L903.8,352.6L904.3,351.6L904.9,354.2L905.4,349.3L906.0,353.2L906.5,349.2L907.0,349.1L907.6,351.6L908.1,348.7L908.7,351.4L909.2,351.9L909.8,348.6L910.3,352.2L910.8,349.9L911.4,352.8L911.9,347.1L912.5,347.4L913.0,350.4L913.5,348.1L914.1,348.9L914.6,351.8L915.2,348.7L915.7,347.2L916.2,348.1L916.8,350.5L917.3,351.8L917.9,351.6L918.4,349.8L918.9,348.7L919.5,348.4L920.0,349.2L920.6,348.7L921.1,352.9L921.7,349.6L922.2,347.9L922.7,350.8L923.3,349.8L923.8,347.1L924.4,352.5L924.9,352.3L925.4,348.0L926.0,351.6L926.5,349.1L927.1,350.2L927.6,349.7L928.1,350.1L928.7,347.9L929.2,345.8L929.8,349.7L930.3,347.2L930.8,346.7L931.4,348.3L931.9,347.3L932.5,349.3L933.0,345.1L933.6,346.6L934.1,342.7L934.6,342.6L935.2,342.8L935.7,342.3L936.3,343.3L936.8,341.2L937.3,345.6L937.9,341.4L938.4,340.3L939.0,343.7L939.5,342.5L940.0,341.6L940.6,342.2L941.1,340.5L941.7,336.7L942.2,341.3L942.8,333.1L943.3,339.4L943.8,334.5L944.4,332.8L944.9,333.0L945.5,331.7L946.0,334.6L946.5,333.5L947.1,332.4L947.6,326.1L948.2,326.7L948.7,322.1L949.2,327.8L949.8,319.0L950.3,321.1L950.9,317.1L951.4,323.1L951.9,321.9L952.5,312.9L953.0,317.4L953.6,307.1L954.1,311.1L954.7,304.3L955.2,304.9L955.7,305.2L956.3,300.4L956.8,296.9L957.4,300.6L957.9,302.4L958.4,303.8L959.0,294.3L959.5,293.8L960.1,290.8L960.6,292.7L961.1,290.1L961.7,293.5L962.2,301.4L962.8,294.4L963.3,301.8L963.9,299.2L964.4,300.0L964.9,304.8L965.5,306.1L966.0,308.1L966.6,305.2L967.1,312.6L967.6,318.2L968.2,310.2L968.7,313.2L969.3,319.9L969.8,317.9L970.3,318.5L970.9,327.3L971.4,321.8L972.0,329.4L972.5,327.2L973.0,322.6L973.6,325.9L974.1,324.6L974.7,329.8L975.2,334.0L975.8,327.1L976.3,328.0L976.8,329.0L977.4,331.9L977.9,331.8L978.5,339.7L979.0,338.6L979.5,340.2L980.1,337.3L980.6,339.3L981.2,339.0L981.7,336.0L982.2,339.6L982.8,337.4L983.3,339.1L983.9,342.5L984.4,338.5L984.9,338.5L985.5,344.2L986.0,341.7L986.6,339.9L987.1,341.7L987.7,341.8L988.2,346.8L988.7,343.9L989.3,347.5L989.8,344.2L990.4,347.6L990.9,347.3L991.4,345.3L992.0,347.3L992.5,343.9L993.1,342.7L993.6,346.2L994.1,342.6L994.7,345.3L995.2,346.7L995.8,347.5L996.3,348.5L996.9,344.0L997.4,348.3L997.9,346.0L998.5,347.0L999.0,346.1L999.6,348.8L1000.1,344.9L1000.6,343.1L1001.2,348.6L1001.7,347.6L1002.3,348.1L1002.8,344.8L1003.3,345.3L1003.9,348.1L1004.4,349.1L1005.0,348.7L1005.5,348.7L1006.0,349.2L1006.6,345.9L1007.1,347.8L1007.7,346.9L1008.2,349.5L1008.8,348.2L1009.3,349.3L1009.8,349.0L1010.4,350.1L1010.9,349.2L1011.5,343.1L1012.0,347.3L1012.5,344.9L1013.1,343.1L1013.6,345.5L1014.2,348.0L1014.7,347.3L1015.2,342.5L1015.8,343.2L1016.3,346.5L1016.9,348.9L1017.4,342.8L1018.0,343.0L1018.5,347.4L1019.0,347.1L1019.6,348.8L1020.1,345.0L1020.7,347.2L1021.2,349.9L1021.7,347.5L1022.3,348.3L1022.8,346.4L1023.4,351.4L1023.9,349.5L1024.4,349.4L1025.0,350.9L1025.5,352.4L1026.1,352.8L1026.6,350.1L1027.1,351.8L1027.7,350.5L1028.2,353.2L1028.8,352.7L1029.3,351.9L1029.9,353.1L1030.4,351.5L1030.9,351.7L1031.5,349.5L1032.0,352.8L1032.6,350.5L1033.1,351.8L1033.6,348.7L1034.2,350.5L1034.7,351.9L1035.3,352.5L1035.8,352.3L1036.3,350.6L1036.9,353.2L1037.4,353.4L1038.0,353.1L1038.5,352.2L1039.0,351.1L1039.6,353.4L1040.1,350.9L1040.7,355.7L1041.2,352.9L1041.8,352.3L1042.3,353.3L1042.8,351.6L1043.4,355.4L1043.9,355.8L1044.5,354.9L1045.0,353.5L1045.5,355.4L1046.1,352.6L1046.6,353.1L1047.2,351.1L1047.7,352.7L1048.2,355.6L1048.8,354.1L1049.3,353.1L1049.9,353.1L1050.4,353.4L1051.0,353.3L1051.5,352.6L1052.0,352.7L1052.6,350.7L1053.1,352.5L1053.7,353.8L1054.2,351.4L1054.7,351.8L1055.3,354.9L1055.8,351.7L1056.4,352.2L1056.9,355.5L1057.4,352.3L1058.0,353.2L1058.5,356.3L1059.1,353.8L1059.6,355.7L1060.1,355.3L1060.7,351.5L1061.2,352.8L1061.8,356.2L1062.3,353.1L1062.9,353.5L1063.4,356.3L1063.9,352.4L1064.5,356.5L1065.0,354.7L1065.6,354.6L1066.1,351.5L1066.6,354.6L1067.2,355.4L1067.7,353.0L1068.3,351.2L1068.8,351.6L1069.3,351.1L1069.9,352.7L1070.4,354.9L1071.0,351.2L1071.5,353.0L1072.1,353.0L1072.6,353.0L1073.1,353.5L1073.7,353.5L1074.2,352.2L1074.8,355.1L1075.3,353.5L1075.8,352.5L1076.4,355.9L1076.9,354.6L1077.5,351.8L1078.0,355.9L1078.5,353.9L1079.1,352.5L1079.6,351.7L1080.2,351.0L1080.7,351.8L1081.2,352.0L1081.8,352.3L1082.3,355.4L1082.9,353.0L1083.4,350.9L1084.0,351.9L1084.5,352.3L1085.0,350.6L1085.6,352.4L1086.1,352.4L1086.7,354.5L1087.2,351.9L1087.7,353.3L1088.3,353.2L1088.8,350.4L1089.4,352.7L1089.9,352.0L1090.4,350.2L1091.0,349.5L1091.5,354.9L1092.1,349.9L1092.6,354.3L1093.1,351.5L1093.7,350.0L1094.2,354.9L1094.8,353.1L1095.3,351.3L1095.9,353.7L1096.4,352.8L1096.9,350.9L1097.5,352.7L1098.0,352.6L1098.6,349.3L1099.1,352.3L1099.6,353.3L1100.2,351.6L1100.7,351.9L1101.3,352.9L1101.8,351.5L1102.3,349.4L1102.9,349.7L1103.4,351.1L1104.0,349.8L1104.5,346.2L1105.1,345.9L1105.6,346.7L1106.1,349.9L1106.7,346.1L1107.2,346.6L1107.8,349.6L1108.3,345.0L1108.8,345.6L1109.4,345.2L1109.9,343.7L1110.5,347.9L1111.0,344.4L1111.5,344.3L1112.1,343.5L1112.6,341.5L1113.2,346.0L1113.7,340.6L1114.2,341.2L1114.8,343.6L1115.3,340.0L1115.9,340.5L1116.4,338.2L1117.0,339.0L1117.5,336.0L1118.0,336.0L1118.6,331.0L1119.1,329.6L1119.7,332.4L1120.2,333.9L1120.7,334.7L1121.3,331.9L1121.8,328.0L1122.4,327.7L1122.9,327.2L1123.4,326.9L1124.0,328.8L1124.5,321.2L1125.1,321.1L1125.6,323.6L1126.2,317.3L1126.7,315.4L1127.2,323.8L1127.8,314.1L1128.3,323.9L1128.9,324.2L1129.4,317.0L1129.9,324.0L1130.5,320.4L1131.0,321.7L1131.6,330.0L1132.1,330.1L1132.6,329.9L1133.2,327.4L1133.7,333.8L1134.3,330.9L1134.8,335.6L1135.3,334.1L1135.9,328.4L1136.4,336.2L1137.0,337.7L1137.5,339.1L1138.1,337.5L1138.6,333.4L1139.1,340.6L1139.7,337.1L1140.2,335.4L1140.8,335.9L1141.3,336.0L1141.8,340.7L1142.4,334.2L1142.9,340.2L1143.5,332.5L1144.0,338.0L1144.5,333.2L1145.1,335.2L1145.6,331.4L1146.2,337.1L1146.7,330.1L1147.2,332.3L1147.8,333.3L1148.3,330.9L1148.9,327.4L1149.4,327.0L1150.0,332.0L1150.5,323.5L1151.0,321.6L1151.6,330.3L1152.1,329.8L1152.7,327.5L1153.2,324.5L1153.7,328.9L1154.3,323.9L1154.8,320.7L1155.4,324.9L1155.9,326.2L1156.4,326.7L1157.0,330.5L1157.5,323.4L1158.1,331.6L1158.6,329.2L1159.2,332.4L1159.7,330.1L1160.2,330.2L1160.8,331.3L1161.3,332.1L1161.9,334.6L1162.4,337.2L1162.9,340.2L1163.5,335.1L1164.0,338.2L1164.6,339.1L1165.1,342.4L1165.6,342.4L1166.2,342.3L1166.7,342.9L1167.3,341.9L1167.8,344.9L1168.3,345.4L1168.9,343.5L1169.4,340.6L1170.0,343.3L1170.5,342.1L1171.1,341.5L1171.6,342.7L1172.1,346.1L1172.7,343.5L1173.2,344.1L1173.8,343.9L1174.3,342.5L1174.8,345.4L1175.4,344.5L1175.9,348.1L1176.5,346.4L1177.0,349.1L1177.5,348.4L1178.1,345.7L1178.6,342.7L1179.2,344.0L1179.7,343.3L1180.3,347.7L1180.8,344.3L1181.3,347.4L1181.9,345.7L1182.4,347.0L1183.0,349.0L1183.5,345.9L1184.0,345.4L1184.6,346.0L1185.1,350.5L1185.7,348.3L1186.2,346.8L1186.7,345.9L1187.3,345.8L1187.8,347.5L1188.4,349.2L1188.9,348.3L1189.4,350.7L1190.0,352.2L1190.5,349.8L1191.1,348.8L1191.6,351.8L1192.2,348.3L1192.7,352.2L1193.2,353.4L1193.8,352.9L1194.3,349.4L1194.9,352.2L1195.4,353.7L1195.9,351.8L1196.5,354.3L1197.0,350.9L1197.6,352.8L1198.1,353.0L1198.6,354.5L1199.2,352.7L1199.7,352.0L1200.3,354.7L1200.8,351.9L1201.3,353.5L1201.9,354.0L1202.4,355.7L1203.0,354.0L1203.5,355.0L1204.1,355.7L1204.6,355.5L1205.1,356.9L1205.7,354.5L1206.2,355.3L1206.8,352.9L1207.3,353.7L1207.8,354.2L1208.4,354.2L1208.9,355.5L1209.5,354.2L1210.0,356.0L1210.5,357.1L1211.1,353.8L1211.6,354.9L1212.2,355.8L1212.7,354.0L1213.3,354.4L1213.8,356.5L1214.3,355.9L1214.9,357.9L1215.4,356.3L1216.0,357.2L1216.5,355.6L1217.0,355.8L1217.6,358.0L1218.1,356.8L1218.7,358.1L1219.2,355.7L1219.7,355.0L1220.3,357.4L1220.8,355.2L1221.4,355.0L1221.9,356.3L1222.4,357.7L1223.0,356.5L1223.5,358.0L1224.1,357.1L1224.6,356.3L1225.2,357.1L1225.7,357.4L1226.2,355.5L1226.8,357.4L1227.3,355.9L1227.9,359.0L1228.4,357.2L1228.9,355.7L1229.5,355.1L1230.0,356.1L1230.6,356.4L1231.1,357.1L1231.6,357.5L1232.2,357.6L1232.7,356.6L1233.3,357.4L1233.8,356.9L1234.4,355.8L1234.9,355.5L1235.4,356.3L1236.0,357.2L1236.5,355.2L1237.1,357.4L1237.6,354.8L1238.1,355.4L1238.7,357.5L1239.2,358.2L1239.8,358.1L1240.3,357.9L1240.8,356.1L1241.4,358.9L1241.9,357.3L1242.5,358.4L1243.0,358.6L1243.5,355.9L1244.1,358.9L1244.6,355.4L1245.2,357.7L1245.7,356.2L1246.3,355.7L1246.8,357.4L1247.3,355.8L1247.9,358.2L1248.4,356.8L1249.0,356.0L1249.5,355.0L1250.0,357.7L1250.6,357.5L1251.1,358.1L1251.7,356.4L1252.2,358.7L1252.7,355.3L1253.3,358.8L1253.8,357.9L1254.4,355.5L1254.9,358.9L1255.4,355.3L1256.0,357.9L1256.5,356.0L1257.1,357.7L1257.6,358.5L1258.2,355.6L1258.7,356.7L1259.2,359.1L1259.8,357.5L1260.3,356.3L1260.9,356.1L1261.4,356.1L1261.9,356.2L1262.5,357.3L1263.0,358.7L1263.6,357.3L1264.1,355.8L1264.6,356.7L1265.2,357.4L1265.7,357.5L1266.3,358.4L1266.8,358.9L1267.4,359.2L1267.9,358.3L1268.4,356.2L1269.0,359.1L1269.5,359.1L1270.1,358.9L1270.6,357.6L1271.1,359.3L1271.7,355.9L1272.2,358.4L1272.8,357.8L1273.3,358.3L1273.8,355.6L1274.4,359.1L1274.9,355.5L1275.5,356.3L1276.0,357.8L1276.5,358.1L1277.1,356.5L1277.6,356.7L1278.2,359.0L1278.7,356.3L1279.3,356.8L1279.8,355.6L1280.3,357.6L1280.9,358.1L1281.4,358.1L1282.0,356.1L1282.5,356.6L1283.0,357.5L1283.6,358.9L1284.1,358.0L1284.7,355.3L1285.2,354.4L1285.7,355.1L1286.3,355.7L1286.8,354.3L1287.4,356.1L1287.9,353.3L1288.5,352.2L1289.0,354.1L1289.5,354.5L1290.1,351.5L1290.6,352.0L1291.2,351.2L1291.7,349.5L1292.2,352.8L1292.8,349.0L1293.3,352.1L1293.9,351.8L1294.4,351.3L1294.9,349.2L1295.5,349.2L1296.0,351.8L1296.6,352.0L1297.1,349.9L1297.6,350.4L1298.2,354.5L1298.7,352.6L1299.3,355.0L1299.8,352.7L1300.4,353.4L1300.9,356.6L1301.4,353.8L1302.0,354.9L1302.5,355.5L1303.1,356.8L1303.6,355.3L1304.1,356.6L1304.7,354.9L1305.2,356.9L1305.8,354.2L1306.3,355.0L1306.8,354.5L1307.4,354.6L1307.9,357.5L1308.5,356.2L1309.0,357.7L1309.5,358.8L1310.1,355.3L1310.6,357.7L1311.2,358.4L1311.7,355.4L1312.3,354.0L1312.8,355.6L1313.3,355.9L1313.9,356.5L1314.4,355.6L1315.0,354.0L1315.5,352.9L1316.0,353.6L1316.6,353.9L1317.1,352.2L1317.7,352.5L1318.2,355.4L1318.7,352.8L1319.3,351.1L1319.8,353.6L1320.4,352.0L1320.9,352.8L1321.5,351.9L1322.0,350.1L1322.5,353.3L1323.1,352.2L1323.6,354.3L1324.2,348.7L1324.7,351.7L1325.2,350.6L1325.8,350.2L1326.3,351.6L1326.9,348.5L1327.4,349.3L1327.9,347.7L1328.5,350.1L1329.0,349.1L1329.6,346.8L1330.1,347.8L1330.6,348.4L1331.2,349.5L1331.7,346.7L1332.3,349.6L1332.8,350.6L1333.4,347.3L1333.9,345.4L1334.4,345.5L1335.0,349.4L1335.5,347.9L1336.1,345.0L1336.6,344.8L1337.1,349.0L1337.7,348.1L1338.2,348.4L1338.8,345.0L1339.3,350.5L1339.8,345.4L1340.4,346.0L1340.9,345.0L1341.5,349.2L1342.0,346.6L1342.6,345.7L1343.1,344.0L1343.6,345.7L1344.2,343.9L1344.7,343.2L1345.3,340.8L1345.8,345.4L1346.3,339.7L1346.9,345.4L1347.4,344.8L1348.0,341.3L1348.5,338.3L1349.0,338.0L1349.6,336.8L1350.1,340.4L1350.7,336.6L1351.2,341.2L1351.7,335.2L1352.3,334.4L1352.8,336.9L1353.4,338.1L1353.9,334.6L1354.5,330.8L1355.0,331.0L1355.5,335.9L1356.1,335.6L1356.6,337.2L1357.2,332.9L1357.7,334.1L1358.2,332.8L1358.8,331.3L1359.3,333.8L1359.9,328.5L1360.4,328.2L1360.9,329.7L1361.5,331.3L1362.0,336.8L1362.6,336.5L1363.1,335.8L1363.6,337.5L1364.2,334.0L1364.7,339.5L1365.3,339.4L1365.8,334.0L1366.4,335.9L1366.9,336.0L1367.4,335.6L1368.0,342.6L1368.5,339.1L1369.1,343.6L1369.6,342.5L1370.1,339.4L1370.7,342.9L1371.2,345.6L1371.8,342.6L1372.3,343.2L1372.8,342.4L1373.4,345.0L1373.9,348.6L1374.5,342.9L1375.0,349.3L1375.6,347.8L1376.1,345.9L1376.6,350.2L1377.2,351.3L1377.7,351.9L1378.3,349.2L1378.8,349.2L1379.3,351.1L1379.9,352.5L1380.4,349.3L1381.0,349.3L1381.5,349.9L1382.0,348.1L1382.6,353.1L1383.1,351.3L1383.7,351.8L1384.2,352.7L1384.7,353.9L1385.3,353.7L1385.8,352.1L1386.4,351.9L1386.9,352.5L1387.5,353.8L1388.0,355.5L1388.5,351.9L1389.1,354.8L1389.6,356.2L1390.2,355.1L1390.7,354.4L1391.2,355.1L1391.8,355.5L1392.3,356.4L1392.9,354.3L1393.4,357.7L1393.9,356.6L1394.5,355.5L1395.0,358.4L1395.6,356.6L1396.1,358.3L1396.7,356.8L1397.2,357.7L1397.7,356.5L1398.3,357.1L1398.8,357.5L1399.4,356.8L1399.9,359.3L1400.4,358.4L1401.0,358.1L1401.5,359.0L1402.1,357.7L1402.6,358.7L1403.1,359.2L1403.7,359.4L1404.2,358.7L1404.8,359.8L1405.3,360.1L1405.8,360.5L1406.4,359.2L1406.9,360.5L1407.5,360.4L1408.0,359.5L1408.6,357.5L1409.1,359.4L1409.6,358.8L1410.2,359.4L1410.7,357.7L1411.3,360.3L1411.8,358.0L1412.3,360.2L1412.9,357.5L1413.4,358.3L1414.0,359.2L1414.5,357.7L1415.0,358.0L1415.6,358.8L1416.1,359.2L1416.7,359.6L1417.2,358.5L1417.7,359.9L1418.3,357.3L1418.8,358.6L1419.4,359.1L1419.9,356.6L1420.5,359.1L1421.0,359.4L1421.5,358.6L1422.1,360.0L1422.6,359.4L1423.2,358.2L1423.7,359.6L1424.2,358.5L1424.8,359.2L1425.3,360.2L1425.9,359.1L1426.4,359.3L1426.9,359.7L1427.5,357.8L1428.0,357.3L1428.6,357.6L1429.1,358.9L1429.7,360.5L1430.2,358.8L1430.7,360.5L1431.3,358.2L1431.8,357.7L1432.4,358.7L1432.9,360.2L1433.4,360.4L1434.0,358.6L1434.5,358.0L1435.1,359.6L1435.6,358.4L1436.1,358.1L1436.7,359.6L1437.2,357.1L1437.8,359.6L1438.3,360.1L1438.8,357.1L1439.4,359.3L1439.9,356.4L1440.5,356.7L1441.0,357.2L1441.6,359.8L1442.1,356.2L1442.6,357.6L1443.2,357.5L1443.7,356.5L1444.3,359.3L1444.8,356.2L1445.3,359.0L1445.9,357.3L1446.4,358.0L1447.0,358.0L1447.5,357.4L1448.0,357.7L1448.6,357.7L1449.1,353.9L1449.7,353.3L1450.2,354.7L1450.8,352.5L1451.3,354.8L1451.8,356.6L1452.4,354.5L1452.9,352.8L1453.5,352.8L1454.0,355.1L1454.5,356.3L1455.1,356.8L1455.6,356.6L1456.2,355.1L1456.7,357.3L1457.2,355.9L1457.8,357.0L1458.3,353.7L1458.9,356.1L1459.4,354.5L1459.9,355.3L1460.5,355.9L1461.0,357.5L1461.6,355.8L1462.1,358.8L1462.7,357.6L1463.2,357.2L1463.7,360.3L1464.3,359.1L1464.8,357.8L1465.4,357.0L1465.9,358.5L1466.4,359.3L1467.0,358.4L1467.5,357.7L1468.1,357.1L1468.6,357.4L1469.1,359.4L1469.7,357.2L1470.2,360.0L1470.8,359.3L1471.3,358.2L1471.8,357.8L1472.4,358.9L1472.9,360.5L1473.5,357.5L1474.0,358.2L1474.6,357.8L1475.1,360.1L1475.6,360.7L1476.2,359.4L1476.7,358.6L1477.3,360.9L1477.8,359.5L1478.3,360.9L1478.9,359.0L1479.4,358.4L1480.0,358.2L1480.5,359.0L1481.0,359.3L1481.6,360.4L1482.1,359.4L1482.7,358.7L1483.2,361.0L1483.8,359.7L1484.3,359.6L1484.8,360.4L1485.4,359.8L1485.9,358.1L1486.5,360.5L1487.0,357.6L1487.5,357.5L1488.1,359.2L1488.6,358.7L1489.2,357.4L1489.7,359.1L1490.2,357.0L1490.8,358.2L1491.3,359.7L1491.9,359.4L1492.4,358.3L1492.9,359.2L1493.5,358.6L1494.0,356.8L1494.6,359.3L1495.1,358.2L1495.7,358.0L1496.2,359.7L1496.7,358.0L1497.3,357.0L1497.8,357.2L1498.4,357.7L1498.9,358.9L1499.4,358.9L1500.0,357.1L1500.5,357.6L1501.1,355.8L1501.6,358.0L1502.1,358.4L1502.7,355.7L1503.2,357.5L1503.8,355.3L1504.3,358.3L1504.9,357.6L1505.4,358.3L1505.9,355.6L1506.5,354.6L1507.0,356.3L1507.6,353.9L1508.1,357.1L1508.6,354.2L1509.2,353.7L1509.7,353.6L1510.3,355.9L1510.8,352.5L1511.3,353.9L1511.9,352.6L1512.4,355.0L1513.0,350.9L1513.5,351.8L1514.0,354.4L1514.6,353.0L1515.1,350.8L1515.7,355.2L1516.2,351.3L1516.8,351.3L1517.3,353.2L1517.8,351.8L1518.4,353.7L1518.9,351.8L1519.5,349.5L1520.0,350.7L1520.5,352.2L1521.1,348.6L1521.6,350.4L1522.2,350.1L1522.7,350.7L1523.2,348.3L1523.8,347.2L1524.3,349.9L1524.9,351.1L1525.4,348.3L1525.9,346.2L1526.5,350.4L1527.0,348.5L1527.6,349.6L1528.1,345.9L1528.7,350.3L1529.2,347.5L1529.7,350.6L1530.3,346.2L1530.8,344.6L1531.4,346.7L1531.9,349.1L1532.4,349.5L1533.0,350.9L1533.5,347.0L1534.1,349.6L1534.6,346.6L1535.1,347.9L1535.7,347.1L1536.2,350.8L1536.8,352.9L1537.3,351.4L1537.9,351.7L1538.4,353.6L1538.9,350.5L1539.5,351.6L1540.0,353.5L1540.6,350.3L1541.1,353.2L1541.6,350.1L1542.2,352.1L1542.7,351.3L1543.3,353.1L1543.8,352.3L1544.3,351.4L1544.9,353.5L1545.4,353.3L1546.0,355.2L1546.5,351.2L1547.0,354.6L1547.6,351.5L1548.1,353.9L1548.7,350.8L1549.2,355.1L1549.8,352.7L1550.3,352.2L1550.8,349.8L1551.4,353.7L1551.9,350.4L1552.5,351.2L1553.0,352.2L1553.5,352.4L1554.1,349.5L1554.6,347.0L1555.2,352.0L1555.7,347.7L1556.2,346.1L1556.8,349.3L1557.3,350.3L1557.9,345.0L1558.4,344.8L1559.0,348.6L1559.5,348.0L1560.0,345.8L1560.6,346.4L1561.1,350.1L1561.7,345.5L1562.2,347.1L1562.7,347.8L1563.3,350.4L1563.8,347.6L1564.4,346.5L1564.9,351.0L1565.4,351.2L1566.0,348.4L1566.5,352.4L1567.1,352.5L1567.6,351.1L1568.1,352.5L1568.7,352.7L1569.2,354.8L1569.8,355.9L1570.3,353.1L1570.9,352.1L1571.4,353.8L1571.9,355.5L1572.5,354.3L1573.0,354.3L1573.6,354.9L1574.1,357.7L1574.6,357.5L1575.2,355.4L1575.7,356.2L1576.3,356.2L1576.8,355.9L1577.3,358.7L1577.9,356.7L1578.4,357.8L1579.0,357.4L1579.5,356.5L1580.0,356.6L1580.6,358.8L1581.1,358.7L1581.7,358.6L1582.2,357.6L1582.8,358.4L1583.3,359.1L1583.8,358.1L1584.4,359.5L1584.9,360.2L1585.5,358.1L1586.0,360.8L1586.5,359.7L1587.1,361.3L1587.6,361.6L1588.2,358.8L1588.7,360.9L1589.2,359.7L1589.8,360.9L1590.3,361.9L1590.9,360.5L1591.4,361.0L1592.0,361.1L1592.5,359.6L1593.0,360.3L1593.6,359.8L1594.1,360.4L1594.7,361.3L1595.2,359.3L1595.7,360.5L1596.3,360.1L1596.8,359.8L1597.4,361.3L1597.9,359.8L1598.4,361.1L1599.0,358.6L1599.5,359.7L1600.1,358.5L1600.6,360.7L1601.1,359.9L1601.7,358.5L1602.2,358.9L1602.8,358.1L1603.3,360.4L1603.9,360.5L1604.4,360.7L1604.9,359.8L1605.5,358.8L1606.0,359.4L1606.6,360.0L1607.1,359.1L1607.6,358.2L1608.2,359.6L1608.7,358.2L1609.3,358.4L1609.8,360.2L1610.3,359.6L1610.9,360.2L1611.4,360.0L1612.0,360.0L1612.5,358.6L1613.1,360.2L1613.6,358.5L1614.1,358.3L1614.7,359.1L1615.2,358.8L1615.8,360.3L1616.3,359.1L1616.8,358.4L1617.4,360.5L1617.9,361.1L1618.5,360.4L1619.0,361.2L1619.5,360.6L1620.1,361.0L1620.6,360.4L1621.2,360.9L1621.7,360.9L1622.2,358.8L1622.8,359.5L1623.3,360.3L1623.9,359.6L1624.4,361.3L1625.0,358.7L1625.5,359.1L1626.0,359.5L1626.6,359.7L1627.1,361.0L1627.7,358.7L1628.2,361.1L1628.7,361.4L1629.3,358.7L1629.8,361.3L1630.4,360.4L1630.9,358.8L1631.4,360.8L1632.0,358.7L1632.5,359.4L1633.1,358.8L1633.6,359.2L1634.1,358.5L1634.7,359.2L1635.2,359.8L1635.8,359.3L1636.3,359.5L1636.9,360.7L1637.4,360.5L1637.9,358.6L1638.5,360.3L1639.0,360.5L1639.6,360.8L1640.1,359.4L1640.6,361.1L1641.2,360.0L1641.7,359.9L1642.3,360.0L1642.8,359.7L1643.3,360.6L1643.9,360.2L1644.4,361.3L1645.0,360.1L1645.5,359.2L1646.1,359.5L1646.6,360.3L1647.1,360.4L1647.7,361.5L1648.2,360.7L1648.8,359.5L1649.3,359.8L1649.8,360.4L1650.4,361.2L1650.9,360.9L1651.5,360.7L1652.0,359.6L1652.5,360.5L1653.1,359.6L1653.6,359.0L1654.2,361.0L1654.7,360.8L1655.2,361.8L1655.8,361.2L1656.3,359.7L1656.9,359.0L1657.4,360.0L1658.0,359.7L1658.5,360.2L1659.0,359.8L1659.6,358.8L1660.1,358.9L1660.7,359.6L1661.2,360.2L1661.7,358.9L1662.3,358.8L1662.8,359.1L1663.4,360.8L1663.9,360.8L1664.4,359.9L1665.0,358.4L1665.5,361.2L1666.1,360.9L1666.6,358.6L1667.2,357.6L1667.7,359.1L1668.2,357.8L1668.8,358.4L1669.3,358.6L1669.9,358.1L1670.4,360.2L1670.9,358.1L1671.5,356.9L1672.0,358.6L1672.6,359.9L1673.1,357.2L1673.6,358.1L1674.2,357.3L1674.7,358.2L1675.3,356.5L1675.8,355.9L1676.3,358.6L1676.9,357.7L1677.4,357.0L1678.0,356.6L1678.5,357.7L1679.1,353.2L1679.6,354.8L1680.1,355.4L1680.7,352.7L1681.2,356.5L1681.8,354.4L1682.3,354.5L1682.8,355.2L1683.4,352.7L1683.9,353.9L1684.5,350.3L1685.0,353.3L1685.5,350.5L1686.1,352.0L1686.6,348.9L1687.2,349.4L1687.7,349.5L1688.2,349.0L1688.8,351.1L1689.3,347.9L1689.9,350.1L1690.4,345.1L1691.0,345.3L1691.5,344.5L1692.0,344.3L1692.6,346.6L1693.1,343.3L1693.7,347.1L1694.2,347.9L1694.7,348.3L1695.3,342.6L1695.8,344.2L1696.4,345.5L1696.9,342.4L1697.4,346.9L1698.0,345.4L1698.5,345.6L1699.1,344.2L1699.6,343.8L1700.2,349.4L1700.7,347.9L1701.2,346.0L1701.8,349.9L1702.3,345.5L1702.9,347.2L1703.4,345.7L1703.9,350.3L1704.5,351.4L1705.0,347.8L1705.6,351.3L1706.1,352.8L1706.6,348.4L1707.2,353.4L1707.7,349.3L1708.3,351.7L1708.8,350.7L1709.3,349.6L1709.9,351.2L1710.4,347.5L1711.0,350.5L1711.5,350.8L1712.1,351.7L1712.6,352.7L1713.1,353.7L1713.7,353.1L1714.2,353.3L1714.8,351.0L1715.3,349.4L1715.8,352.6L1716.4,349.0L1716.9,354.2L1717.5,351.7L1718.0,350.4L1718.5,349.2L1719.1,353.6L1719.6,353.5L1720.2,349.9L1720.7,353.8L1721.3,350.2L1721.8,353.8L1722.3,353.0L1722.9,353.6L1723.4,351.0L1724.0,354.4L1724.5,354.4L1725.0,354.9L1725.6,352.7L1726.1,352.2L1726.7,353.5L1727.2,354.3L1727.7,354.7L1728.3,353.4L1728.8,354.3L1729.4,354.7L1729.9,354.8L1730.4,355.5L1731.0,353.7L1731.5,353.8L1732.1,354.2L1732.6,356.4L1733.2,357.1L1733.7,354.4L1734.2,356.0L1734.8,355.7L1735.3,356.9L1735.9,353.4L1736.4,356.1L1736.9,357.1L1737.5,357.7L1738.0,355.7L1738.6,356.4L1739.1,358.1L1739.6,358.8L1740.2,356.4L1740.7,359.0L1741.3,356.2L1741.8,356.0L1742.3,356.2L1742.9,356.5L1743.4,356.6L1744.0,357.2L1744.5,357.7L1745.1,360.2L1745.6,359.6L1746.1,357.4L1746.7,358.1L1747.2,359.8L1747.8,359.7L1748.3,359.4L1748.8,359.4L1749.4,360.6L1749.9,359.9L1750.5,360.6L1751.0,358.5L1751.5,358.8L1752.1,359.2L1752.6,360.4L1753.2,360.3L1753.7,361.0L1754.3,361.2L1754.8,361.1L1755.3,360.0L1755.9,359.4L1756.4,361.6L1757.0,361.8L1757.5,359.4L1758.0,359.4L1758.6,359.7L1759.1,360.3L1759.7,361.3L1760.2,360.7L1760.7,361.2L1761.3,361.6L1761.8,360.1L1762.4,360.5L1762.9,362.1L1763.4,361.0L1764.0,360.8L1764.5,361.0L1765.1,361.1L1765.6,361.6L1766.2,362.0L1766.7,361.3L1767.2,361.3L1767.8,361.2L1768.3,360.5L1768.9,361.6L1769.4,360.4L1769.9,360.4L1770.5,360.6L1771.0,361.1L1771.6,361.7L1772.1,360.6L1772.6,361.2L1773.2,360.9L1773.7,360.9L1774.3,362.1L1774.8,361.4L1775.4,360.0L1775.9,361.9L1776.4,361.1L1777.0,362.1L1777.5,360.2L1778.1,362.1L1778.6,361.3L1779.1,361.2L1779.7,360.7L1780.2,361.8L1780.8,361.6L1781.3,360.5L1781.8,360.1L1782.4,360.0L1782.9,360.1L1783.5,359.1L1784.0,359.2L1784.5,360.4L1785.1,360.7L1785.6,361.3L1786.2,359.0L1786.7,359.6L1787.3,359.2L1787.8,360.6L1788.3,359.8L1788.9,360.0L1789.4,359.6L1790.0,361.6L1790.5,362.2L1791.0,360.2L1791.6,361.2L1792.1,362.0L1792.7,362.2L1793.2,361.3L1793.7,360.7L1794.3,362.3L1794.8,362.2L1795.4,361.7L1795.9,362.9L1796.4,362.4L1797.0,362.0L1797.5,362.0L1798.1,361.1L1798.6,362.7L1799.2,362.8L1799.7,361.3L1800.2,362.4L1800.8,362.1L1801.3,361.7L1801.9,362.0L1802.4,361.2L1802.9,361.6L1803.5,361.6L1804.0,362.3L1804.6,362.0L1805.1,361.1L1805.6,361.6L1806.2,361.9L1806.7,361.8L1807.3,362.5L1807.8,362.5L1808.4,362.9L1808.9,362.9L1809.4,362.1L1810.0,362.2L1810.5,362.4L1811.1,362.1L1811.6,361.3L1812.1,361.5L1812.7,362.6L1813.2,362.5L1813.8,361.8L1814.3,361.5L1814.8,362.2L1815.4,362.7L1815.9,361.3L1816.5,362.3L1817.0,361.6L1817.5,361.7L1818.1,362.0L1818.6,361.6L1819.2,362.5L1819.7,361.5L1820.3,362.1L1820.8,362.4L1821.3,362.7L1821.9,362.2L1822.4,361.5L1823.0,362.7L1823.5,362.9" fill="none" stroke="#ff00ff" stroke-width="10.3" stroke-linejoin="round" stroke-linecap="round"/>
</g>
<g stroke="#000" stroke-width="4.8" stroke-linecap="butt">
<line x1="200.5" y1="1140.5" x2="200.5" y2="1157.5"/>
<line x1="335.8" y1="1140.5" x2="335.8" y2="1151"/>
<line x1="471.0" y1="1140.5" x2="471.0" y2="1157.5"/>
<line x1="606.2" y1="1140.5" x2="606.2" y2="1151"/>
<line x1="741.5" y1="1140.5" x2="741.5" y2="1157.5"/>
<line x1="876.8" y1="1140.5" x2="876.8" y2="1151"/>
<line x1="1012.0" y1="1140.5" x2="1012.0" y2="1157.5"/>
<line x1="1147.2" y1="1140.5" x2="1147.2" y2="1151"/>
<line x1="1282.5" y1="1140.5" x2="1282.5" y2="1157.5"/>
<line x1="1417.8" y1="1140.5" x2="1417.8" y2="1151"/>
<line x1="1553.0" y1="1140.5" x2="1553.0" y2="1157.5"/>
<line x1="1688.2" y1="1140.5" x2="1688.2" y2="1151"/>
<line x1="1823.5" y1="1140.5" x2="1823.5" y2="1157.5"/>
</g>
<text class="tick" transform="translate(200.8,1214.7) scale(1,1.045)">20</text>
<text class="tick" transform="translate(471.3,1214.7) scale(1,1.045)">30</text>
<text class="tick" transform="translate(741.8,1214.7) scale(1,1.045)">40</text>
<text class="tick" transform="translate(1012.3,1214.7) scale(1,1.045)">50</text>
<text class="tick" transform="translate(1282.8,1214.7) scale(1,1.045)">60</text>
<text class="tick" transform="translate(1553.3,1214.7) scale(1,1.045)">70</text>
<text class="tick" transform="translate(1823.8,1214.7) scale(1,1.045)">80</text>
<text class="lab" transform="translate(1030.8,1323) scale(1,1.025)" text-anchor="middle">2θ (degree)</text>
<text class="lab" style="font-size:106.8px" transform="translate(134.7,602.1) rotate(-90) scale(1,1.0)" text-anchor="middle">Intensity (a. u.)</text>
<g stroke-width="10" stroke-linecap="round" fill="none">
<line x1="986" y1="180" x2="1210" y2="180" stroke="#ff00ff"/>
<line x1="1070" y1="454" x2="1293" y2="454" stroke="#0000ff"/>
<line x1="1210" y1="700.3" x2="1433" y2="700.3" stroke="#ff0000"/>
</g>
<text class="lab" transform="translate(1236,213) scale(1,1.045)">TiO<tspan class="sub" dx="-2.5" dy="37.6">2</tspan><tspan dx="0.5" dy="-37.6" letter-spacing="0.7">:YTM</tspan></text>
<text class="lab" transform="translate(1320.3,487.3) scale(1,1.045)">TiO<tspan class="sub" dx="-2.5" dy="37.6">2</tspan><tspan dx="-1.0" dy="-37.6">:YT</tspan></text>
<text class="lab" transform="translate(1458.8,734) scale(1,1.045)">TiO<tspan class="sub" dx="-2.5" dy="37.6">2</tspan></text>
<text class="lab" transform="translate(871.5,940.8) scale(1,1.045)">TiO<tspan class="sub" dx="-2.5" dy="37.6">2</tspan><tspan dx="4.5" dy="-37.6"> PDF#21-1272</tspan></text>
<text class="lab" transform="translate(411.5,180.3) scale(1,1.045)">YbF<tspan class="sub" dx="2.5" dy="37.6">3</tspan></text>
<circle cx="434.1" cy="279.9" r="14.1" fill="#000"/>
<circle cx="527" cy="294.8" r="14.1" fill="#000"/>
</svg>
</body>
</html>
